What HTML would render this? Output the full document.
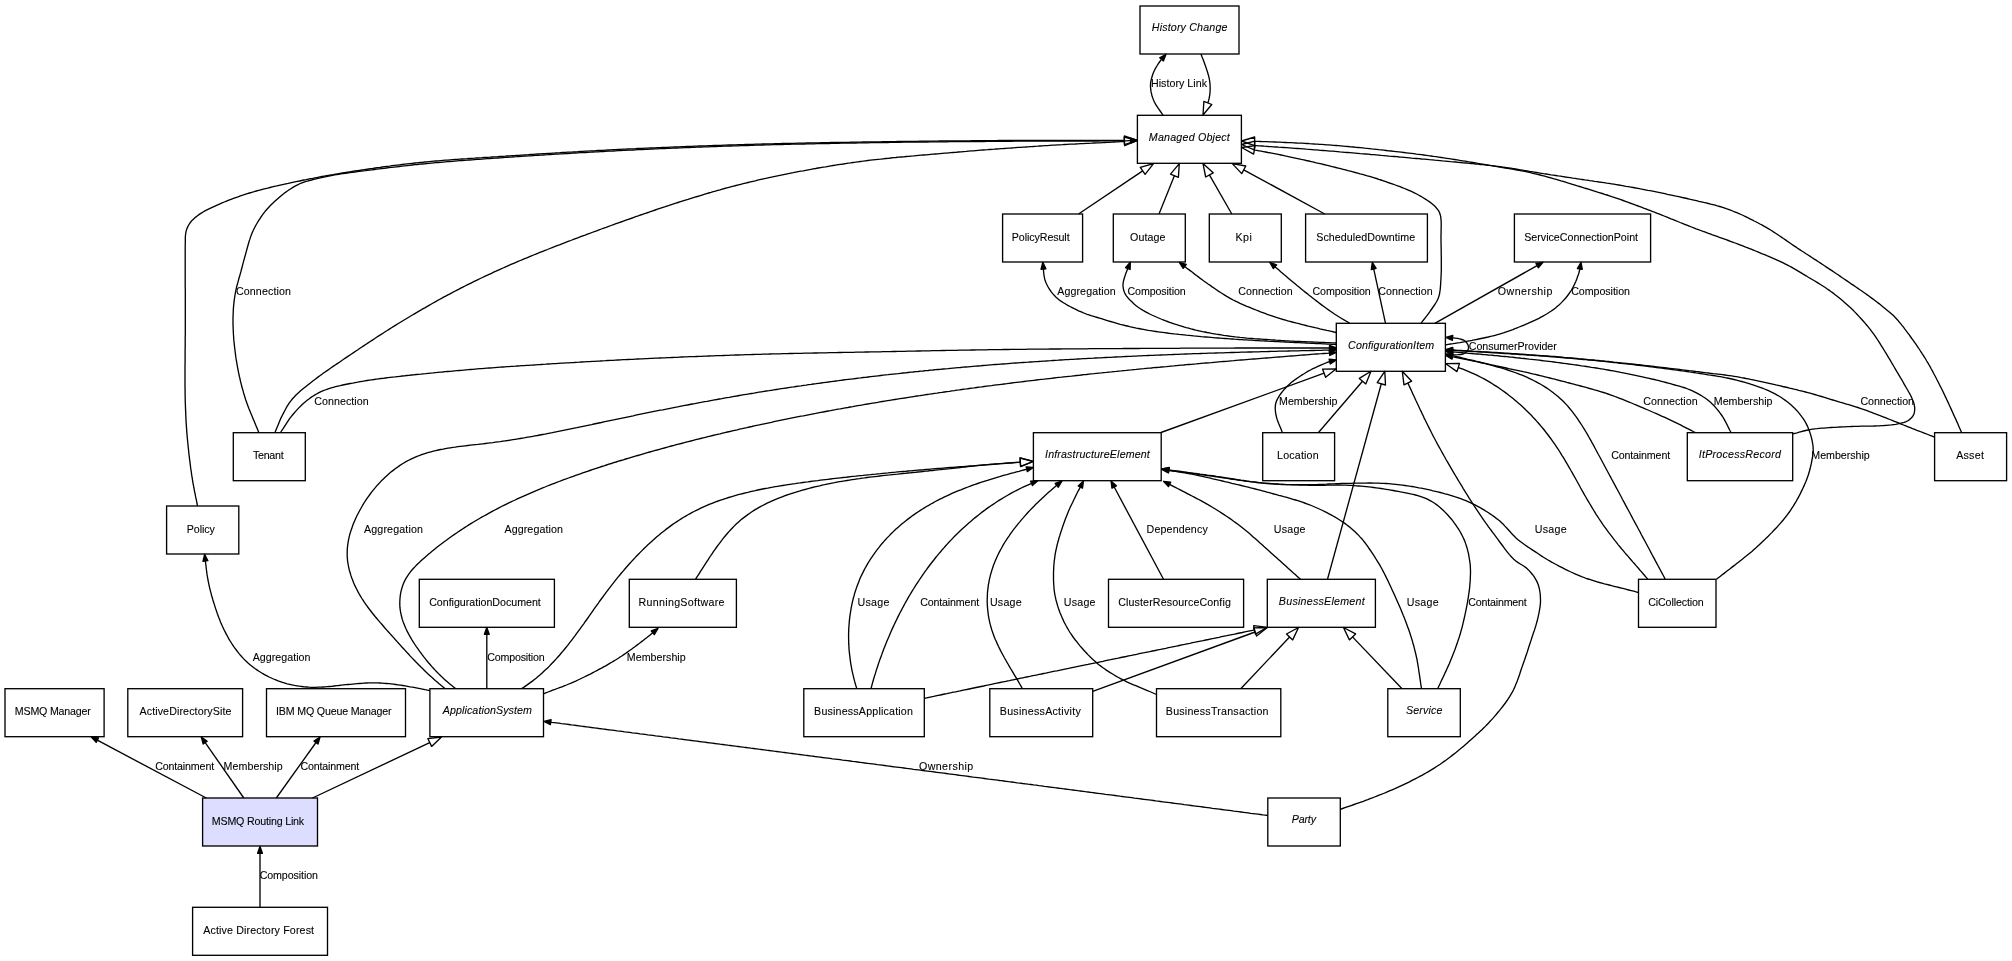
<!DOCTYPE html>
<html lang="en"><head><meta charset="utf-8"><title>Class diagram</title>
<style>html,body{margin:0;padding:0;background:#fff}body{width:2012px;height:961px;overflow:hidden}svg{display:block}text{font-family:"Liberation Sans",Arial,sans-serif;font-size:10.667px;fill:#000;stroke:#000;stroke-width:0.1px}.i{font-style:italic}.e{fill:none;stroke:#000;stroke-width:1.333}.n{stroke:#000;stroke-width:1.333}.f{fill:#000;stroke:#000;stroke-width:1.333;stroke-linejoin:round}.o{fill:none;stroke:#000;stroke-width:1.333;stroke-linejoin:round}</style></head><body>
<svg width="2012" height="961" viewBox="0 0 2012 961">
<rect width="2012" height="961" fill="#fff"/>
<rect class="n" x="1140" y="6" width="99" height="48" fill="#fff"/>
<rect class="n" x="1137.4" y="115.3" width="104" height="48" fill="#fff"/>
<rect class="n" x="1002.6" y="214" width="80" height="48" fill="#fff"/>
<rect class="n" x="1113.3" y="214" width="72" height="48" fill="#fff"/>
<rect class="n" x="1209.3" y="214" width="72" height="48" fill="#fff"/>
<rect class="n" x="1305.6" y="214" width="121.8" height="48" fill="#fff"/>
<rect class="n" x="1514.4" y="214" width="136.2" height="48" fill="#fff"/>
<rect class="n" x="1336.3" y="323.3" width="109.1" height="48" fill="#fff"/>
<rect class="n" x="233.3" y="432.7" width="72" height="48" fill="#fff"/>
<rect class="n" x="1033.4" y="432.7" width="127.8" height="48" fill="#fff"/>
<rect class="n" x="1262.7" y="432.7" width="71.9" height="48" fill="#fff"/>
<rect class="n" x="1687.3" y="432.7" width="105.4" height="48" fill="#fff"/>
<rect class="n" x="1934.6" y="432.7" width="72" height="48" fill="#fff"/>
<rect class="n" x="166.6" y="506" width="72.2" height="48" fill="#fff"/>
<rect class="n" x="419.3" y="579.3" width="135.1" height="48" fill="#fff"/>
<rect class="n" x="629.3" y="579.3" width="107.1" height="48" fill="#fff"/>
<rect class="n" x="1108.5" y="579.3" width="135.1" height="48" fill="#fff"/>
<rect class="n" x="1267.3" y="579.3" width="108.1" height="48" fill="#fff"/>
<rect class="n" x="1638.5" y="579.3" width="77.5" height="48" fill="#fff"/>
<rect class="n" x="5" y="688.7" width="99.1" height="48" fill="#fff"/>
<rect class="n" x="127.8" y="688.7" width="114.8" height="48" fill="#fff"/>
<rect class="n" x="266.5" y="688.7" width="139" height="48" fill="#fff"/>
<rect class="n" x="429.9" y="688.7" width="113.6" height="48" fill="#fff"/>
<rect class="n" x="803.8" y="688.7" width="120.5" height="48" fill="#fff"/>
<rect class="n" x="989.8" y="688.7" width="102.9" height="48" fill="#fff"/>
<rect class="n" x="1156.5" y="688.7" width="124.3" height="48" fill="#fff"/>
<rect class="n" x="1387.8" y="688.7" width="72.5" height="48" fill="#fff"/>
<rect class="n" x="202.6" y="798" width="114.9" height="48" fill="#ddddff"/>
<rect class="n" x="1267.8" y="798" width="72.5" height="48" fill="#fff"/>
<rect class="n" x="192.6" y="907.3" width="134.9" height="48" fill="#fff"/>
<path class="e" d="M1163,115.3L1161.8,113.4L1160.5,111.5L1159.2,109.6L1157.8,107.7L1156.6,105.8L1155.4,103.9L1154.4,102L1153.5,100L1152.7,97.9L1152,95.7L1151.5,93.6L1151,91.4L1150.7,89.2L1150.5,87.1L1150.5,85L1150.6,82.8L1151,80.7L1151.5,78.6L1152.1,76.5L1152.7,74.5L1153.5,72.5L1154.5,70.3L1155.6,68.1L1156.9,66L1158.2,63.9L1159.5,62L1160.7,60.3L1161.5,59.4"/>
<polygon class="f" points="1166,54.3 1163.4,61 1159.7,57.8"/>
<path class="e" d="M1201,54L1201.8,56.3L1202.7,58.5L1203.6,60.8L1204.4,63L1205.2,65.3L1206,67.5L1206.7,69.6L1207.4,71.7L1208,73.8L1208.6,75.8L1209.1,77.9L1209.5,80L1209.8,82.1L1210,84.2L1210.1,86.3L1210.2,88.4L1210.1,90.5L1210,92.5L1209.8,94.6L1209.5,96.5L1209.1,98.5L1208.6,100.5L1208,102.5L1207.9,102.9"/>
<polygon class="o" points="1203,115 1203.9,101.3 1211.8,104.5"/>
<path class="e" d="M1078.5,214L1142.7,170.9"/>
<polygon class="o" points="1153.5,163.6 1145.1,174.4 1140.3,167.3"/>
<path class="e" d="M1159,214L1174.4,175.7"/>
<polygon class="o" points="1179.3,163.6 1178.4,177.3 1170.5,174.1"/>
<path class="e" d="M1231.8,214L1209.4,174.9"/>
<polygon class="o" points="1203,163.6 1213.2,172.8 1205.7,177"/>
<path class="e" d="M1324.8,214L1243.7,169.8"/>
<polygon class="o" points="1232.3,163.6 1245.8,166 1241.7,173.6"/>
<path class="e" d="M1421,323.3L1422.4,321.4L1423.9,319.5L1425.4,317.6L1426.9,315.7L1428.3,313.8L1429.7,311.9L1431,310L1432.4,308L1433.8,306L1435.2,304L1436.4,302L1437.6,299.8L1438.5,297.5L1439.1,295.6L1439.6,293.6L1439.9,291.5L1440.2,289.4L1440.4,287.1L1440.6,284.8L1440.7,282.5L1440.9,280L1441,277.5L1441.1,275.5L1441.2,273.3L1441.3,271.1L1441.3,268.8L1441.3,266.4L1441.3,264L1441.3,261.5L1441.3,259L1441.3,256.5L1441.2,254L1441.2,251.6L1441.2,249.1L1441.1,246.7L1441.1,244.4L1441,242.2L1441,240L1441,237.5L1441,234.9L1441.1,232.4L1441.1,229.9L1441.2,227.4L1441.2,225L1441.2,222.7L1441.1,220.6L1440.9,218.5L1440.7,216.7L1440.3,215L1439.6,212.8L1438.7,210.9L1437.5,209.3L1436,207.5L1434.7,206.1L1433.2,204.8L1431.4,203.3L1429.6,201.9L1427.6,200.5L1425.4,199.1L1423.2,197.7L1420.9,196.3L1418.5,195L1416.7,194L1414.8,193.1L1412.9,192.2L1410.9,191.2L1408.8,190.3L1406.7,189.4L1404.5,188.5L1402.2,187.6L1400,186.7L1397.7,185.9L1395.3,185L1393,184.1L1390.6,183.3L1388.2,182.5L1385.8,181.6L1383.4,180.8L1381,180L1378.8,179.3L1376.6,178.5L1374.3,177.8L1372,177.1L1369.7,176.4L1367.3,175.8L1364.9,175.1L1362.5,174.4L1360.1,173.8L1357.7,173.1L1355.3,172.5L1352.9,171.8L1350.4,171.2L1348,170.6L1345.5,169.9L1343.1,169.3L1340.7,168.7L1338.2,168.1L1335.8,167.5L1333.4,166.9L1331,166.3L1328.6,165.7L1326.2,165.1L1323.7,164.5L1321.3,163.9L1318.8,163.3L1316.3,162.8L1313.8,162.2L1311.3,161.6L1308.8,161L1306.3,160.5L1303.8,159.9L1301.3,159.4L1298.9,158.8L1296.5,158.3L1294.1,157.8L1291.8,157.3L1289.5,156.8L1287.3,156.3L1285.1,155.9L1283,155.4L1281,155L1278.3,154.4L1275.6,153.9L1273,153.4L1270.5,152.9L1268,152.5L1265.6,152L1263.3,151.6L1261.1,151.2L1258.9,150.8L1256.8,150.4L1254.8,150L1254.4,149.9"/>
<polygon class="o" points="1241.6,147.5 1255.2,145.7 1253.6,154.1"/>
<path class="e" d="M1792.8,433.9L1795,433.3L1797.1,432.8L1799.2,432.2L1801.4,431.6L1803.5,431L1805.7,430.5L1807.9,430L1810.1,429.6L1812.4,429.2L1814.7,428.9L1817,428.7L1819.3,428.4L1821.6,428.2L1824,428.1L1826.4,427.9L1828.9,427.7L1831,427.5L1833.2,427.4L1835.5,427.3L1837.7,427.1L1840,427L1842.3,426.9L1844.7,426.8L1847,426.7L1849.3,426.6L1851.6,426.5L1853.9,426.4L1856.2,426.3L1858.5,426.3L1860.8,426.2L1863.2,426.2L1865.5,426.2L1867.8,426.1L1870.1,426.1L1872.4,426.1L1874.7,426L1876.9,425.9L1879,425.8L1881.5,425.6L1884,425.5L1886.5,425.3L1889,425.1L1891.3,424.9L1893.6,424.6L1895.8,424.3L1897.8,423.9L1900.1,423.4L1902.2,422.9L1904.2,422.4L1906.1,421.7L1907.8,420.8L1909.5,419.6L1911,418.3L1912.4,416.8L1913.4,415.2L1914.1,413.5L1914.5,411.6L1914.7,409.6L1914.7,407.6L1914.4,405.7L1914,403.7L1913.3,401.7L1912.5,399.7L1911.6,397.6L1910.8,395.7L1909.8,393.9L1908.7,392L1907.6,390L1906.4,388L1905.2,385.9L1904,383.8L1902.9,381.8L1901.7,379.7L1900.4,377.6L1899.1,375.3L1897.8,373.1L1896.4,370.8L1895.1,368.6L1893.9,366.5L1892.6,364.4L1891.5,362.5L1890.2,360.2L1888.9,358.2L1887.7,356.2L1886.6,354.2L1885.3,352.2L1884,350L1882.9,348.2L1881.7,346.3L1880.5,344.4L1879.3,342.4L1878,340.5L1876.8,338.5L1875.5,336.6L1874.1,334.6L1872.8,332.8L1871.3,330.8L1869.8,328.9L1868.2,326.9L1866.6,325L1865,323.1L1863.4,321.3L1861.8,319.5L1860.2,317.7L1858.7,316.1L1857.2,314.5L1855.7,312.9L1854.2,311.4L1852.7,309.8L1851.1,308.3L1849.4,306.8L1847.7,305.2L1846,303.7L1844.3,302.2L1842.4,300.6L1840.6,299.1L1838.7,297.5L1836.8,296L1834.8,294.4L1832.9,292.9L1830.9,291.5L1829,290.1L1826.9,288.7L1824.9,287.3L1822.8,286L1820.8,284.7L1818.7,283.4L1816.6,282.1L1814.4,280.8L1812.2,279.5L1810,278.2L1808,277L1806.1,275.8L1804,274.6L1802,273.4L1799.9,272.1L1797.8,270.9L1795.7,269.6L1793.5,268.4L1791.4,267.2L1789.2,266L1787.1,264.9L1785,263.8L1782.8,262.7L1780.5,261.6L1778.3,260.6L1776,259.6L1773.8,258.6L1771.5,257.6L1769.2,256.6L1766.9,255.7L1764.6,254.7L1762.3,253.8L1760,252.8L1757.8,251.9L1755.6,251L1753.4,250.1L1751.2,249.2L1748.9,248.3L1746.7,247.5L1744.4,246.6L1742.2,245.7L1739.8,244.8L1737.5,243.9L1735.1,243L1732.6,242.1L1730.5,241.3L1728.3,240.5L1726.2,239.7L1723.9,238.9L1721.7,238.1L1719.4,237.3L1717.1,236.4L1714.8,235.6L1712.4,234.8L1710.1,233.9L1707.8,233.1L1705.4,232.2L1703.1,231.4L1700.7,230.5L1698.4,229.6L1696.1,228.8L1693.8,227.9L1691.5,227L1689.2,226.1L1686.9,225.2L1684.7,224.3L1682.4,223.4L1680.1,222.5L1677.8,221.5L1675.5,220.6L1673.3,219.7L1671,218.8L1668.7,217.8L1666.4,216.9L1664.1,216L1661.9,215.1L1659.6,214.2L1657.3,213.3L1655,212.4L1652.7,211.5L1650.5,210.7L1648.2,209.8L1645.9,208.9L1643.6,208.1L1641.4,207.2L1639.1,206.3L1636.8,205.5L1634.5,204.6L1632.3,203.8L1630,203L1627.7,202.1L1625.4,201.3L1623.2,200.5L1620.9,199.7L1618.6,198.9L1616.3,198.1L1614,197.3L1611.7,196.6L1609.4,195.8L1607,195L1604.7,194.3L1602.3,193.5L1600,192.8L1597.6,192.1L1595.3,191.3L1592.9,190.6L1590.6,189.9L1588.3,189.2L1586.1,188.5L1583.9,187.9L1581.7,187.2L1579.6,186.5L1577.5,185.9L1575,185.1L1572.5,184.3L1570.1,183.6L1567.7,182.9L1565.4,182.1L1563.2,181.4L1560.9,180.8L1558.6,180.1L1556.3,179.4L1554,178.8L1551.7,178.1L1549.4,177.5L1547,176.8L1544.7,176.2L1542.3,175.6L1540,175L1537.6,174.4L1535.2,173.8L1532.9,173.3L1530.5,172.7L1528.2,172.2L1525.8,171.7L1523.5,171.2L1521.3,170.8L1519.1,170.4L1517,170L1514.8,169.6L1512.6,169.2L1510.3,168.8L1507.9,168.4L1505.5,168L1502.8,167.6L1500,167.1L1498.1,166.8L1496.1,166.4L1494,166.1L1491.9,165.7L1489.7,165.4L1487.5,165L1485.2,164.6L1482.8,164.2L1480.4,163.8L1477.9,163.4L1475.5,162.9L1472.9,162.5L1470.4,162.1L1467.8,161.7L1465.2,161.2L1462.5,160.8L1459.9,160.4L1457.2,159.9L1454.6,159.5L1451.9,159.1L1449.2,158.7L1446.6,158.3L1443.9,157.9L1441.3,157.5L1438.7,157.1L1436.1,156.7L1433.5,156.4L1431,156L1428.6,155.7L1426.2,155.3L1423.8,155L1421.3,154.7L1418.9,154.4L1416.4,154.1L1413.9,153.7L1411.4,153.4L1408.9,153.1L1406.4,152.8L1403.8,152.5L1401.3,152.2L1398.8,151.9L1396.2,151.6L1393.7,151.3L1391.2,151L1388.7,150.8L1386.2,150.5L1383.7,150.2L1381.3,149.9L1378.8,149.7L1376.4,149.4L1374,149.1L1371.7,148.9L1369.3,148.6L1367,148.4L1364.7,148.2L1362.5,147.9L1360.3,147.7L1358.1,147.5L1356,147.3L1353.3,147L1350.6,146.8L1348.1,146.5L1345.6,146.3L1343.1,146.1L1340.7,145.9L1338.3,145.7L1336,145.5L1333.6,145.3L1331.3,145.1L1329,144.9L1326.7,144.8L1324.3,144.6L1321.9,144.4L1319.5,144.3L1317.1,144.1L1314.6,144L1312,143.8L1309.6,143.7L1307.2,143.5L1304.6,143.4L1302,143.2L1299.3,143.1L1296.6,143L1293.9,142.8L1291.1,142.7L1288.3,142.6L1285.5,142.5L1282.7,142.4L1280,142.2L1277.3,142.1L1274.6,142L1272,141.9L1269.5,141.8L1267.1,141.7L1264.7,141.6L1262.5,141.6L1260.3,141.5L1258.3,141.4L1256.5,141.4L1254.8,141.3L1254.6,141.3"/>
<polygon class="o" points="1241.6,141 1254.7,137 1254.5,145.6"/>
<path class="e" d="M1961.7,432.7L1960.7,430.4L1959.7,428.2L1958.7,425.9L1957.7,423.6L1956.7,421.4L1955.7,419.1L1954.6,416.8L1953.6,414.6L1952.6,412.3L1951.6,410.1L1950.6,407.9L1949.6,405.8L1948.7,403.7L1947.7,401.6L1946.7,399.5L1945.7,397.4L1944.7,395.2L1943.7,393.1L1942.7,391L1941.6,388.8L1940.5,386.7L1939.4,384.5L1938.3,382.2L1937.1,380L1936,377.7L1934.8,375.5L1933.6,373.3L1932.5,371.1L1931.3,369L1930.2,366.9L1929.1,365L1927.9,362.9L1926.7,361L1925.6,359L1924.4,357.2L1923.3,355.4L1922.1,353.6L1921,351.8L1919.8,350L1918.5,348L1917.2,346.1L1915.9,344.2L1914.6,342.3L1913.2,340.4L1911.8,338.5L1910.4,336.5L1909.1,334.7L1907.7,332.8L1906.2,330.9L1904.7,328.9L1903.3,326.9L1901.8,325.1L1900.4,323.3L1899,321.7L1897.8,320.2L1896.2,318.5L1894.8,317L1893.4,315.6L1891.6,314L1890.2,312.7L1888.6,311.4L1886.8,309.9L1885,308.4L1883.1,306.9L1881.1,305.3L1879,303.6L1876.9,302L1874.9,300.5L1872.8,298.9L1871,297.6L1869.2,296.2L1867.3,294.9L1865.4,293.5L1863.5,292.2L1861.5,290.8L1859.5,289.5L1857.6,288.1L1855.6,286.8L1853.6,285.4L1851.6,284.1L1849.6,282.7L1847.7,281.4L1845.8,280.1L1843.8,278.8L1841.9,277.5L1840,276.1L1838.1,274.8L1836.1,273.5L1834.2,272.2L1832.3,270.9L1830.3,269.6L1828.4,268.4L1826.5,267.1L1824.5,265.8L1822.6,264.5L1820.5,263.1L1818.4,261.8L1816.4,260.4L1814.3,259.1L1812.2,257.7L1810.2,256.4L1808.1,255L1806,253.7L1803.9,252.3L1801.8,251L1799.7,249.6L1797.6,248.2L1795.7,246.9L1793.7,245.6L1791.7,244.2L1789.6,242.8L1787.5,241.4L1785.5,239.9L1783.4,238.5L1781.4,237.1L1779.4,235.8L1777.5,234.5L1775.6,233.2L1773.8,232.1L1772.2,231L1770.6,230L1768.3,228.6L1766.2,227.4L1764.3,226.3L1762.3,225.2L1760,224L1758.2,223L1756.3,222L1754.2,221L1752.1,219.9L1749.9,218.8L1747.7,217.7L1745.5,216.6L1743.3,215.5L1741.1,214.5L1739,213.6L1736.8,212.7L1734.7,211.8L1732.6,211L1730.5,210.2L1728.4,209.4L1726.3,208.7L1724.1,207.9L1721.9,207.2L1719.6,206.5L1717.4,205.9L1715.2,205.2L1713,204.6L1710.7,204.1L1708.4,203.5L1706.1,202.9L1703.7,202.4L1701.3,201.8L1698.9,201.3L1696.4,200.7L1693.8,200.1L1691.6,199.6L1689.3,199.1L1687,198.5L1684.7,198L1682.3,197.5L1679.8,196.9L1677.4,196.4L1674.9,195.9L1672.4,195.3L1669.9,194.8L1667.4,194.3L1664.9,193.7L1662.4,193.2L1659.9,192.7L1657.4,192.2L1655,191.7L1652.6,191.2L1650.2,190.7L1647.8,190.3L1645.3,189.8L1642.9,189.3L1640.5,188.9L1638.1,188.4L1635.7,188L1633.2,187.5L1630.8,187.1L1628.4,186.7L1626,186.3L1623.6,185.8L1621.1,185.4L1618.7,185L1616.3,184.6L1613.9,184.2L1611.5,183.8L1609,183.4L1606.6,183.1L1604.2,182.7L1601.8,182.3L1599.3,182L1596.9,181.6L1594.5,181.3L1592.1,180.9L1589.6,180.6L1587.2,180.2L1584.8,179.9L1582.3,179.5L1579.9,179.2L1577.5,178.8L1575.1,178.4L1572.7,178.1L1570.2,177.7L1567.8,177.3L1565.4,177L1563,176.6L1560.6,176.2L1558.1,175.9L1555.7,175.5L1553.3,175.1L1550.9,174.8L1548.5,174.4L1546.1,174L1543.6,173.7L1541.2,173.3L1538.8,172.9L1536.4,172.5L1534.1,172.1L1531.7,171.7L1529.5,171.4L1527.2,171L1524.9,170.6L1522.6,170.2L1520.3,169.8L1518,169.4L1515.6,169L1513.2,168.6L1510.8,168.2L1508.2,167.8L1505.6,167.5L1502.8,167.1L1500,166.7L1498,166.4L1495.9,166.2L1493.8,165.9L1491.7,165.7L1489.5,165.4L1487.3,165.2L1485,164.9L1482.7,164.7L1480.4,164.5L1478,164.2L1475.6,164L1473.2,163.7L1470.8,163.5L1468.3,163.2L1465.8,163L1463.3,162.8L1460.8,162.5L1458.2,162.3L1455.7,162L1453.1,161.8L1450.5,161.6L1447.9,161.3L1445.3,161.1L1442.6,160.9L1440,160.6L1437.4,160.4L1434.8,160.2L1432.1,159.9L1429.5,159.7L1426.9,159.4L1424.2,159.2L1421.6,159L1419,158.7L1416.4,158.5L1414,158.3L1411.6,158.1L1409.2,157.8L1406.8,157.6L1404.3,157.4L1401.8,157.2L1399.3,157L1396.8,156.7L1394.2,156.5L1391.7,156.3L1389.1,156.1L1386.5,155.8L1383.9,155.6L1381.3,155.4L1378.7,155.1L1376.1,154.9L1373.5,154.7L1370.8,154.5L1368.2,154.2L1365.6,154L1363,153.8L1360.4,153.6L1357.8,153.3L1355.2,153.1L1352.6,152.9L1350,152.7L1347.5,152.5L1344.9,152.3L1342.4,152.1L1339.9,151.9L1337.4,151.6L1335,151.4L1332.5,151.2L1330.1,151.1L1327.7,150.9L1325.4,150.7L1323.1,150.5L1320.8,150.3L1318.5,150.1L1316.3,149.9L1314.1,149.8L1312,149.6L1309.1,149.4L1306.3,149.2L1303.4,148.9L1300.5,148.7L1297.7,148.5L1294.9,148.3L1292,148.1L1289.3,147.9L1286.5,147.7L1283.8,147.5L1281.1,147.3L1278.5,147.2L1276,147L1273.5,146.8L1271.1,146.6L1268.7,146.5L1266.4,146.3L1264.2,146.2L1262.2,146L1260.2,145.9L1258.3,145.8L1256.5,145.6L1254.8,145.5L1254.6,145.5"/>
<polygon class="o" points="1241.6,144.5 1254.9,141.2 1254.2,149.8"/>
<path class="e" d="M197.5,505.8L197,503.5L196.6,501.2L196.1,498.9L195.6,496.7L195.2,494.4L194.7,492.1L194.3,489.8L193.8,487.5L193.4,485L192.9,482.6L192.5,480L192.2,477.9L191.8,475.7L191.5,473.5L191.2,471.2L190.8,468.9L190.5,466.5L190.2,464.1L189.9,461.7L189.6,459.3L189.3,456.8L189,454.4L188.7,452L188.5,449.5L188.2,447.1L188,444.7L187.7,442.3L187.5,440L187.3,437.7L187.1,435.4L186.9,433.1L186.7,430.9L186.6,428.7L186.4,426.5L186.3,424.3L186.1,422.1L186,419.9L185.9,417.6L185.8,415.3L185.7,412.9L185.6,410.4L185.5,407.9L185.4,405.2L185.3,402.5L185.2,400.5L185.2,398.5L185.2,396.4L185.1,394.3L185.1,392.1L185.1,389.8L185,387.6L185,385.3L185,382.9L185,380.6L185,378.1L185,375.7L185,373.2L185,370.8L185,368.2L185,365.7L185.1,363.2L185.1,360.6L185.1,358.1L185.1,355.5L185.1,352.9L185.1,350.3L185.2,347.7L185.2,345.2L185.2,342.6L185.2,340L185.2,337.4L185.3,334.9L185.3,332.4L185.3,329.8L185.3,327.3L185.3,324.9L185.3,322.4L185.3,320L185.3,317.5L185.3,315L185.3,312.3L185.3,309.6L185.3,306.9L185.3,304.1L185.3,301.2L185.3,298.4L185.3,295.5L185.3,292.6L185.3,289.7L185.2,286.8L185.2,283.9L185.2,281L185.2,278.1L185.2,275.3L185.2,272.5L185.2,269.8L185.2,267.1L185.2,264.5L185.2,262L185.2,259.5L185.2,257.1L185.2,254.9L185.2,252.7L185.2,250.6L185.2,248.7L185.2,246.9L185.2,245.2L185.3,243.7L185.3,242.3L185.3,241.1L185.3,240L185.3,237.9L185.4,236.5L185.5,235L185.8,233L186.2,230.9L186.9,228.8L187.7,226.9L188.7,225L189.9,223.1L191.3,221.3L192.6,219.9L194.1,218.5L195.7,217.1L197.5,215.7L199.3,214.4L201.3,213.1L203.1,212L204.9,210.9L206.9,209.9L209,208.8L211.1,207.8L213.3,206.8L215.5,205.8L217.7,204.8L220,203.8L222.1,202.9L224.3,202L226.5,201.1L228.8,200.2L231.1,199.3L233.4,198.4L235.7,197.6L238,196.8L240.4,195.9L242.7,195.2L245,194.4L247.3,193.7L249.5,193L251.8,192.3L254.1,191.7L256.3,191L258.6,190.4L260.9,189.8L263.2,189.2L265.4,188.6L267.7,188.1L270,187.5L272.3,186.9L274.5,186.4L276.8,185.9L279.1,185.3L281.3,184.8L283.6,184.3L285.9,183.8L288.2,183.4L290.4,182.9L292.7,182.4L295,181.9L297.3,181.4L299.5,181L301.7,180.5L303.9,180L306.1,179.6L308.3,179.1L310.5,178.7L312.8,178.3L315.1,177.8L317.5,177.4L320,176.9L322.1,176.5L324.3,176.1L326.4,175.7L328.6,175.3L330.8,174.9L333.1,174.6L335.4,174.2L337.7,173.8L340,173.4L342.4,173L344.8,172.6L347.3,172.2L349.8,171.8L352.3,171.4L354.9,171L357.5,170.6L359.6,170.3L361.8,170L363.9,169.7L366.1,169.3L368.4,169L370.6,168.7L372.9,168.4L375.3,168L377.6,167.7L380,167.4L382.3,167L384.8,166.7L387.2,166.4L389.6,166.1L392.1,165.7L394.6,165.4L397.1,165.1L399.6,164.8L402.1,164.5L404.6,164.2L407.2,163.9L409.7,163.6L412.3,163.3L414.9,163L417.4,162.8L420,162.5L422.3,162.3L424.5,162L426.8,161.8L429.1,161.6L431.4,161.4L433.7,161.2L436,161L438.3,160.8L440.7,160.6L443,160.4L445.4,160.2L447.7,160.1L450.1,159.9L452.5,159.7L454.9,159.5L457.3,159.4L459.7,159.2L462.1,159L464.6,158.8L467,158.7L469.5,158.5L472,158.3L474.5,158.2L477,158L479.5,157.8L482,157.7L484.6,157.5L487.2,157.3L489.8,157.2L492.4,157L495,156.8L497.7,156.7L500.3,156.5L503,156.3L505.2,156.2L507.4,156L509.7,155.9L512,155.7L514.2,155.6L516.5,155.4L518.9,155.3L521.2,155.1L523.5,155L525.9,154.8L528.3,154.7L530.7,154.5L533.1,154.4L535.5,154.2L537.9,154L540.3,153.9L542.8,153.7L545.2,153.6L547.7,153.4L550.2,153.3L552.6,153.1L555.1,153L557.6,152.8L560.1,152.7L562.6,152.5L565.2,152.4L567.7,152.2L570.2,152.1L572.7,152L575.3,151.8L577.8,151.7L580.3,151.5L582.8,151.4L585.4,151.2L587.9,151.1L590.5,150.9L593,150.8L595.5,150.7L598,150.5L600.6,150.4L603.1,150.3L605.6,150.1L608.1,150L610.6,149.9L613.1,149.7L615.6,149.6L618.1,149.5L620.6,149.4L623.1,149.2L625.5,149.1L628,149L630.5,148.9L632.9,148.8L635.4,148.7L637.8,148.5L640.3,148.4L642.7,148.3L645.2,148.2L647.6,148.1L650.1,148L652.5,147.9L655,147.8L657.4,147.7L659.9,147.6L662.3,147.5L664.8,147.4L667.2,147.3L669.7,147.2L672.1,147.1L674.6,147L677,146.9L679.5,146.8L681.9,146.7L684.4,146.6L686.8,146.5L689.3,146.4L691.7,146.3L694.2,146.2L696.6,146.1L699.1,146L701.5,145.9L704,145.9L706.4,145.8L708.9,145.7L711.3,145.6L713.8,145.5L716.2,145.4L718.7,145.4L721.1,145.3L723.6,145.2L726,145.1L728.5,145L730.9,145L733.4,144.9L735.8,144.8L738.3,144.7L740.7,144.7L743.2,144.6L745.6,144.5L748.1,144.4L750.5,144.4L753,144.3L755.5,144.2L757.9,144.2L760.3,144.1L762.8,144L765.2,144L767.7,143.9L770.1,143.8L772.6,143.8L775,143.7L777.5,143.7L779.9,143.6L782.4,143.5L784.8,143.5L787.3,143.4L789.7,143.4L792.2,143.3L794.6,143.3L797.1,143.2L799.5,143.2L801.9,143.1L804.4,143.1L806.8,143L809.3,143L811.7,142.9L814.2,142.9L816.6,142.8L819.1,142.8L821.5,142.7L824,142.7L826.4,142.6L828.9,142.6L831.3,142.5L833.8,142.5L836.2,142.5L838.7,142.4L841.1,142.4L843.6,142.3L846,142.3L848.5,142.3L850.9,142.2L853.4,142.2L855.9,142.1L858.3,142.1L860.8,142.1L863.2,142L865.7,142L868.1,141.9L870.6,141.9L873.1,141.9L875.5,141.8L878,141.8L880.4,141.8L882.9,141.7L885.4,141.7L887.8,141.7L890.3,141.6L892.7,141.6L895.2,141.6L897.7,141.5L900.1,141.5L902.6,141.5L905.1,141.4L907.6,141.4L910,141.4L912.5,141.3L915,141.3L917.5,141.3L919.9,141.2L922.4,141.2L924.9,141.2L927.4,141.2L929.9,141.1L932.3,141.1L934.8,141.1L937.3,141.1L939.8,141L942.3,141L944.7,141L947.2,141L949.7,140.9L952.2,140.9L954.6,140.9L957.1,140.9L959.6,140.8L962.1,140.8L964.5,140.8L967,140.8L969.5,140.8L971.9,140.7L974.4,140.7L976.8,140.7L979.3,140.7L981.7,140.7L984.2,140.6L986.6,140.6L989,140.6L991.5,140.6L993.9,140.6L996.3,140.6L998.8,140.5L1001.2,140.5L1003.6,140.5L1006,140.5L1008.6,140.5L1011.2,140.5L1013.8,140.5L1016.5,140.4L1019.2,140.4L1022,140.4L1024.8,140.4L1027.6,140.4L1030.4,140.4L1033.2,140.4L1036.1,140.4L1039,140.4L1041.9,140.4L1044.7,140.4L1047.6,140.4L1050.5,140.3L1053.4,140.3L1056.3,140.3L1059.1,140.3L1062,140.3L1064.8,140.3L1067.7,140.3L1070.5,140.3L1073.2,140.3L1076,140.3L1078.7,140.3L1081.4,140.3L1084,140.3L1086.6,140.3L1089.2,140.3L1091.7,140.3L1094.2,140.3L1096.6,140.3L1098.9,140.3L1101.2,140.3L1103.4,140.3L1105.6,140.3L1107.7,140.3L1109.7,140.3L1111.7,140.3L1113.6,140.3L1115.4,140.3L1117.1,140.3L1118.7,140.3L1120.2,140.3L1121.7,140.3L1123,140.3L1124.4,140.3"/>
<polygon class="o" points="1137.4,140.3 1124.4,144.6 1124.4,136"/>
<path class="e" d="M275,432.5L275.9,430.3L276.8,428.1L277.7,425.9L278.6,423.7L279.5,421.5L280.4,419.3L281.4,417.1L282.5,415L283.6,412.9L284.7,410.8L285.8,408.8L286.9,406.7L288.2,404.7L289.5,402.7L290.9,400.8L292.5,398.8L294,397.2L295.5,395.5L297.1,394L298.8,392.4L300.6,390.8L302.4,389.3L304.3,387.8L306.3,386.2L308.3,384.6L310.4,383L312.5,381.3L314.2,380L315.9,378.7L317.6,377.4L319.5,376L321.3,374.7L323.2,373.3L325.1,372L327.1,370.6L329.1,369.2L331.1,367.8L333.1,366.4L335.2,365L337.3,363.6L339.4,362.2L341.5,360.7L343.6,359.3L345.7,357.9L347.9,356.4L350,355L351.9,353.7L353.9,352.4L355.9,351L357.9,349.7L359.9,348.3L361.9,347L364,345.6L366.1,344.2L368.1,342.9L370.2,341.5L372.4,340.1L374.5,338.7L376.6,337.3L378.7,335.9L380.8,334.6L383,333.2L385.1,331.8L387.3,330.5L389.4,329.1L391.5,327.8L393.7,326.4L395.8,325.1L397.9,323.8L400,322.5L402.1,321.2L404.1,320L406.2,318.7L408.3,317.5L410.3,316.3L412.4,315L414.5,313.8L416.5,312.6L418.6,311.4L420.7,310.2L422.7,308.9L424.8,307.8L426.9,306.6L429,305.4L431,304.2L433.1,303L435.2,301.8L437.3,300.7L439.4,299.5L441.5,298.4L443.6,297.2L445.7,296.1L447.9,294.9L450,293.8L452.2,292.7L454.3,291.5L456.5,290.4L458.6,289.3L460.7,288.2L462.9,287.1L465,286L467.2,284.9L469.3,283.9L471.5,282.8L473.7,281.7L475.9,280.6L478,279.6L480.2,278.5L482.4,277.5L484.7,276.4L486.9,275.4L489.1,274.3L491.4,273.3L493.7,272.2L496,271.2L498.3,270.1L500.6,269.1L503,268L505.1,267.1L507.3,266.1L509.4,265.2L511.6,264.2L513.7,263.3L515.9,262.4L518.1,261.4L520.3,260.5L522.5,259.6L524.7,258.7L526.9,257.8L529.1,256.8L531.4,255.9L533.6,255L535.9,254.1L538.2,253.2L540.5,252.2L542.8,251.3L545.1,250.4L547.5,249.5L549.8,248.5L552.2,247.6L554.6,246.7L557,245.7L559.5,244.8L561.9,243.8L564.4,242.9L566.9,241.9L569.5,241L572,240L574.1,239.2L576.3,238.4L578.4,237.6L580.6,236.7L582.8,235.9L585.1,235.1L587.4,234.2L589.7,233.4L592,232.5L594.3,231.6L596.7,230.8L599,229.9L601.4,229L603.8,228.1L606.2,227.3L608.7,226.4L611.1,225.5L613.5,224.6L616,223.7L618.5,222.8L620.9,222L623.4,221.1L625.9,220.2L628.3,219.3L630.8,218.5L633.3,217.6L635.7,216.7L638.2,215.9L640.6,215L643.1,214.2L645.5,213.3L648,212.5L650.4,211.6L652.8,210.8L655.2,210L657.5,209.2L659.9,208.4L662.2,207.6L664.6,206.9L666.9,206.1L669.1,205.4L671.4,204.6L673.6,203.9L675.8,203.2L678,202.5L680.5,201.7L683,200.9L685.4,200.1L687.9,199.4L690.3,198.6L692.6,197.9L695,197.2L697.3,196.5L699.6,195.8L701.9,195.1L704.2,194.4L706.5,193.7L708.8,193L711,192.4L713.3,191.7L715.5,191.1L717.8,190.4L720,189.8L722.3,189.1L724.5,188.5L726.8,187.9L729.1,187.3L731.4,186.7L733.7,186.1L736,185.5L738.4,184.9L740.8,184.3L743.1,183.7L745.6,183.1L748,182.5L750.5,181.9L753,181.3L755.3,180.8L757.5,180.2L759.8,179.7L762.1,179.2L764.5,178.7L766.8,178.2L769.2,177.6L771.5,177.1L773.9,176.6L776.3,176.1L778.7,175.6L781.1,175.1L783.6,174.6L786,174.1L788.4,173.6L790.9,173.1L793.3,172.7L795.8,172.2L798.3,171.7L800.8,171.2L803.2,170.8L805.7,170.3L808.2,169.8L810.7,169.4L813.2,168.9L815.7,168.5L818.2,168L820.7,167.6L823.2,167.2L825.7,166.8L828.2,166.3L830.7,165.9L833.2,165.5L835.7,165.1L838.2,164.7L840.7,164.3L843.2,164L845.6,163.6L848.1,163.2L850.5,162.9L853,162.5L855.4,162.2L857.9,161.8L860.4,161.5L862.9,161.2L865.4,160.8L867.9,160.5L870.4,160.2L873,159.9L875.5,159.6L878.1,159.3L880.6,159.1L883.2,158.8L885.7,158.5L888.3,158.3L890.9,158L893.4,157.7L896,157.5L898.6,157.2L901.1,157L903.7,156.8L906.2,156.5L908.7,156.3L911.2,156.1L913.7,155.9L916.2,155.6L918.7,155.4L921.2,155.2L923.6,155L926,154.8L928.4,154.6L930.8,154.4L933.1,154.2L935.5,154L937.8,153.8L940,153.6L942.3,153.4L944.5,153.2L946.7,153.1L948.8,152.9L950.9,152.7L953,152.5L955.8,152.3L958.4,152L961.1,151.8L963.6,151.6L966.2,151.4L968.6,151.1L971.1,150.9L973.5,150.8L975.8,150.6L978.2,150.4L980.5,150.2L982.8,150L985.1,149.8L987.4,149.7L989.7,149.5L992,149.3L994.3,149.2L996.6,149L998.9,148.8L1001.2,148.6L1003.6,148.5L1006,148.3L1008.4,148.1L1010.9,148L1013.3,147.8L1015.7,147.6L1018.1,147.4L1020.6,147.3L1023,147.1L1025.4,147L1027.8,146.8L1030.3,146.6L1032.7,146.5L1035.1,146.3L1037.6,146.2L1040,146L1042.5,145.9L1044.9,145.7L1047.4,145.6L1049.9,145.4L1052.4,145.2L1054.9,145.1L1057.5,144.9L1060,144.8L1062.4,144.7L1064.8,144.5L1067.4,144.4L1069.9,144.2L1072.6,144.1L1075.2,144L1077.9,143.8L1080.7,143.7L1083.4,143.6L1086.1,143.4L1088.9,143.3L1091.6,143.2L1094.3,143L1097,142.9L1099.6,142.8L1102.2,142.6L1104.7,142.5L1107.2,142.4L1109.6,142.3L1111.9,142.1L1114.1,142L1116.2,141.9L1118.2,141.8L1120.1,141.7L1121.9,141.6L1123.5,141.5L1124.4,141.4"/>
<polygon class="o" points="1137.4,140.5 1124.7,145.7 1124.1,137.2"/>
<path class="e" d="M258.8,432.5L257.9,430.3L257,428.1L256.1,426L255.2,423.8L254.3,421.6L253.4,419.5L252.5,417.3L251.6,415.1L250.7,413L249.8,410.8L248.9,408.6L248.1,406.4L247.3,404.2L246.5,402L245.7,399.7L245,397.5L244.3,395.2L243.6,392.9L243,390.6L242.3,388.3L241.7,386L241.1,383.6L240.5,381.3L240,378.9L239.4,376.5L238.9,374.2L238.4,371.8L238,369.5L237.5,367.1L237.1,364.7L236.7,362.4L236.3,360L235.9,357.7L235.6,355.3L235.3,352.9L235,350.5L234.7,348.1L234.4,345.7L234.2,343.3L233.9,340.9L233.7,338.5L233.6,336.2L233.4,333.8L233.3,331.5L233.2,329.2L233.1,326.9L233,324.7L233,322.5L233,320.1L233,317.7L233.1,315.3L233.2,313L233.3,310.7L233.4,308.4L233.6,306.1L233.8,303.9L234.1,301.7L234.3,299.4L234.7,297.2L235,295L235.4,292.6L235.9,290.3L236.4,287.9L237,285.5L237.7,283.1L238.3,280.8L238.9,278.5L239.6,276.2L240.2,274.1L240.8,272L241.3,270L242,267.5L242.6,265.2L243.1,263.1L243.7,260.9L244.3,258.7L245,256.3L245.6,254.1L246.2,251.8L246.9,249.3L247.6,246.8L248.3,244.3L249,241.8L249.8,239.4L250.5,237.1L251.3,235L252.2,232.7L253.2,230.5L254.2,228.5L255.2,226.5L256.3,224.5L257.5,222.5L258.6,220.7L259.8,218.8L261,217L262.3,215.2L263.6,213.4L264.9,211.7L266.3,210L267.9,208.2L269.5,206.5L271.1,204.8L272.8,203.2L274.5,201.6L276.3,200L278,198.5L279.7,197L281.5,195.5L283.3,194.1L285.1,192.6L287,191.3L288.8,190L290.8,188.7L292.9,187.4L295,186.2L297.1,185.1L299.2,184L301.3,183.1L303.3,182.3L305.3,181.6L307.4,181.1L309.4,180.5L311.6,180L313.8,179.4L315.9,178.9L318.1,178.3L320.4,177.8L322.7,177.3L325.1,176.8L327.5,176.3L330,175.8L332.5,175.3L334.6,174.9L336.7,174.6L338.7,174.3L340.8,173.9L343,173.6L345.2,173.3L347.4,173L349.8,172.7L352.2,172.4L354.8,172.1L357.5,171.7L359.4,171.4L361.4,171.2L363.4,170.9L365.5,170.7L367.6,170.4L369.8,170.1L372.1,169.8L374.4,169.5L376.7,169.2L379.1,168.9L381.5,168.6L383.9,168.3L386.4,168L388.9,167.7L391.5,167.4L394,167.1L396.6,166.8L399.2,166.5L401.8,166.2L404.4,165.9L407,165.6L409.6,165.3L412.2,165L414.8,164.7L417.4,164.5L420,164.2L422.3,164L424.5,163.8L426.8,163.5L429.1,163.3L431.4,163.1L433.7,162.9L436,162.7L438.4,162.5L440.7,162.3L443,162.1L445.4,161.9L447.7,161.7L450.1,161.5L452.5,161.3L454.9,161.1L457.3,160.9L459.7,160.7L462.1,160.5L464.6,160.4L467,160.2L469.5,160L472,159.8L474.5,159.6L477,159.4L479.5,159.3L482,159.1L484.6,158.9L487.2,158.7L489.8,158.5L492.4,158.3L495,158.2L497.7,158L500.3,157.8L503,157.6L505.2,157.4L507.4,157.3L509.7,157.1L512,157L514.2,156.8L516.5,156.7L518.9,156.5L521.2,156.4L523.5,156.2L525.9,156.1L528.3,155.9L530.7,155.8L533.1,155.6L535.5,155.4L537.9,155.3L540.3,155.1L542.8,155L545.2,154.8L547.7,154.7L550.2,154.5L552.6,154.4L555.1,154.2L557.6,154.1L560.1,153.9L562.6,153.8L565.2,153.6L567.7,153.5L570.2,153.3L572.7,153.2L575.2,153L577.8,152.9L580.3,152.7L582.8,152.6L585.4,152.5L587.9,152.3L590.5,152.2L593,152L595.5,151.9L598,151.8L600.6,151.6L603.1,151.5L605.6,151.3L608.1,151.2L610.6,151.1L613.1,151L615.6,150.8L618.1,150.7L620.6,150.6L623.1,150.4L625.5,150.3L628,150.2L630.5,150.1L632.9,150L635.4,149.8L637.8,149.7L640.3,149.6L642.7,149.5L645.2,149.4L647.6,149.3L650.1,149.2L652.5,149L655,148.9L657.4,148.8L659.9,148.7L662.3,148.6L664.8,148.5L667.2,148.4L669.7,148.3L672.1,148.2L674.6,148.1L677,148L679.5,147.9L681.9,147.8L684.4,147.7L686.8,147.6L689.3,147.5L691.7,147.4L694.2,147.3L696.6,147.2L699.1,147.1L701.5,147L704,146.9L706.4,146.9L708.9,146.8L711.3,146.7L713.8,146.6L716.2,146.5L718.7,146.4L721.1,146.3L723.6,146.2L726,146.2L728.5,146.1L730.9,146L733.4,145.9L735.8,145.8L738.3,145.8L740.7,145.7L743.2,145.6L745.6,145.5L748.1,145.5L750.5,145.4L753,145.3L755.5,145.2L757.9,145.2L760.3,145.1L762.8,145L765.2,144.9L767.7,144.9L770.1,144.8L772.6,144.7L775,144.7L777.5,144.6L779.9,144.5L782.4,144.5L784.8,144.4L787.3,144.4L789.7,144.3L792.2,144.2L794.6,144.2L797.1,144.1L799.5,144.1L801.9,144L804.4,144L806.8,143.9L809.3,143.9L811.7,143.8L814.2,143.8L816.6,143.7L819.1,143.6L821.5,143.6L824,143.6L826.4,143.5L828.9,143.5L831.3,143.4L833.8,143.4L836.2,143.3L838.7,143.3L841.1,143.2L843.6,143.2L846,143.1L848.5,143.1L850.9,143L853.4,143L855.9,143L858.3,142.9L860.8,142.9L863.2,142.8L865.7,142.8L868.1,142.8L870.6,142.7L873.1,142.7L875.5,142.6L878,142.6L880.4,142.6L882.9,142.5L885.4,142.5L887.8,142.5L890.3,142.4L892.7,142.4L895.2,142.3L897.7,142.3L900.1,142.3L902.6,142.2L905.1,142.2L907.6,142.2L910,142.2L912.5,142.1L915,142.1L917.5,142.1L919.9,142L922.4,142L924.9,142L927.4,142L929.9,141.9L932.3,141.9L934.8,141.9L937.3,141.9L939.8,141.8L942.3,141.8L944.7,141.8L947.2,141.8L949.7,141.7L952.2,141.7L954.6,141.7L957.1,141.7L959.6,141.7L962.1,141.6L964.5,141.6L967,141.6L969.5,141.6L971.9,141.6L974.4,141.5L976.8,141.5L979.3,141.5L981.7,141.5L984.2,141.5L986.6,141.4L989,141.4L991.5,141.4L993.9,141.4L996.3,141.4L998.8,141.4L1001.2,141.3L1003.6,141.3L1006,141.3L1008.6,141.3L1011.2,141.3L1013.8,141.2L1016.5,141.2L1019.2,141.2L1022,141.2L1024.8,141.2L1027.6,141.2L1030.4,141.2L1033.2,141.2L1036.1,141.1L1039,141.1L1041.9,141.1L1044.7,141.1L1047.6,141.1L1050.5,141.1L1053.4,141.1L1056.3,141.1L1059.1,141.1L1062,141.1L1064.8,141.1L1067.7,141L1070.5,141L1073.2,141L1076,141L1078.7,141L1081.4,141L1084,141L1086.6,141L1089.2,141L1091.7,141L1094.2,141L1096.6,141L1098.9,141L1101.2,140.9L1103.4,140.9L1105.6,140.9L1107.7,140.9L1109.7,140.9L1111.7,140.9L1113.6,140.9L1115.4,140.9L1117.1,140.9L1118.7,140.8L1120.2,140.8L1121.7,140.8L1123,140.8L1126.2,140.8L1128.8,140.7L1130.6,140.7"/>
<polygon class="f" points="1137.4,140.5 1130.7,143.1 1130.5,138.2"/>
<path class="e" d="M1336.3,344.5L1334,344.4L1331.7,344.3L1329.5,344.2L1327.2,344.1L1325,343.9L1322.7,343.8L1320.5,343.7L1318.2,343.6L1315.9,343.5L1313.5,343.4L1311.1,343.3L1308.6,343.1L1306,343L1303.9,342.9L1301.7,342.8L1299.5,342.7L1297.3,342.6L1295,342.5L1292.6,342.4L1290.3,342.3L1287.9,342.1L1285.4,342L1283,341.9L1280.5,341.8L1278.1,341.7L1275.6,341.6L1273.1,341.4L1270.6,341.3L1268.2,341.2L1265.7,341L1263.3,340.9L1260.8,340.8L1258.4,340.6L1256,340.5L1253.6,340.4L1251.2,340.2L1248.9,340.1L1246.5,339.9L1244.1,339.8L1241.7,339.6L1239.3,339.5L1236.9,339.3L1234.6,339.2L1232.2,339L1229.8,338.9L1227.4,338.7L1225,338.5L1222.7,338.4L1220.3,338.2L1217.9,338L1215.5,337.8L1213.1,337.6L1210.8,337.4L1208.4,337.2L1206,337L1203.6,336.8L1201.2,336.6L1198.7,336.3L1196.3,336.1L1193.8,335.9L1191.4,335.6L1188.9,335.4L1186.4,335.2L1183.9,334.9L1181.5,334.6L1179,334.4L1176.6,334.1L1174.2,333.9L1171.8,333.6L1169.4,333.3L1167.1,333L1164.8,332.7L1162.5,332.4L1160.3,332.1L1158.1,331.8L1156,331.5L1153.4,331.1L1150.8,330.7L1148.3,330.3L1145.8,329.8L1143.4,329.4L1141.1,329L1138.7,328.5L1136.4,328.1L1134.1,327.6L1131.8,327.1L1129.6,326.6L1127.3,326L1125,325.5L1122.6,324.9L1120.2,324.3L1117.7,323.6L1115.3,322.9L1112.9,322.2L1110.5,321.5L1108.1,320.8L1105.8,320.1L1103.6,319.4L1101.4,318.7L1099.4,318.1L1097.5,317.5L1095.1,316.8L1093,316.2L1091,315.6L1089,314.9L1087.1,314.3L1085,313.5L1082.9,312.7L1080.7,311.7L1078.5,310.8L1076.4,309.7L1074.2,308.7L1072.1,307.6L1070,306.5L1067.8,305.3L1065.6,304L1063.4,302.7L1061.3,301.4L1059.3,300L1057.5,298.5L1055.8,296.9L1054.2,295.3L1052.7,293.6L1051.3,291.8L1050,290L1048.8,288.2L1047.7,286.3L1046.7,284.3L1045.8,282.3L1045,280L1044.5,278.1L1044.1,276L1043.8,273.8L1043.6,271.5L1043.4,269.2L1043.4,269.1"/>
<polygon class="f" points="1042.8,262.3 1045.9,268.9 1041,269.3"/>
<path class="e" d="M1336.3,343L1333.9,342.9L1331.5,342.8L1329.1,342.7L1326.6,342.6L1324.2,342.5L1321.8,342.4L1319.4,342.3L1317,342.2L1314.5,342.1L1312.1,342L1309.7,341.9L1307.3,341.8L1304.8,341.7L1302.4,341.6L1300,341.5L1297.6,341.4L1295.2,341.3L1292.8,341.2L1290.4,341.1L1288.1,340.9L1285.7,340.8L1283.3,340.6L1281,340.5L1278.6,340.3L1276.1,340.2L1273.7,340L1271.2,339.9L1268.8,339.7L1266.3,339.5L1263.9,339.4L1261.4,339.2L1259,339L1256.6,338.8L1254.2,338.7L1251.8,338.5L1249.4,338.3L1247,338.1L1244.7,337.8L1242.3,337.6L1240,337.4L1237.7,337.1L1235.5,336.9L1233.2,336.6L1231,336.3L1228.5,336L1226,335.6L1223.6,335.3L1221.2,334.9L1218.8,334.5L1216.4,334.2L1214,333.8L1211.7,333.4L1209.4,332.9L1207.1,332.5L1204.8,332L1202.5,331.6L1200.2,331.1L1198,330.6L1195.7,330.1L1193.5,329.5L1191.1,328.9L1188.6,328.2L1186.2,327.6L1183.8,326.9L1181.4,326.1L1179,325.4L1176.6,324.6L1174.2,323.9L1171.9,323.1L1169.6,322.3L1167.4,321.5L1165.2,320.7L1163.1,319.8L1161,319L1158.6,318L1156.3,317L1154.1,316L1151.8,315L1149.7,314L1147.6,312.9L1145.6,311.8L1143.6,310.7L1141.8,309.6L1140,308.5L1137.8,307L1135.8,305.4L1133.8,303.8L1132.1,302.1L1130.5,300.6L1129,299L1127.6,297.4L1126.4,295.8L1125.3,294.2L1124.5,292.5L1123.9,290.7L1123.4,288.8L1123.1,286.9L1123,285L1123.1,283.2L1123.4,281.4L1123.9,279.5L1124.5,277.5L1125.1,275.6L1125.8,273.5L1126.7,271.3L1127.6,269.1L1127.8,268.6"/>
<polygon class="f" points="1130.3,262.3 1130.1,269.5 1125.5,267.7"/>
<path class="e" d="M1336.3,332.5L1334,332L1331.6,331.4L1329.2,330.9L1326.9,330.4L1324.5,329.8L1322.1,329.3L1319.8,328.8L1317.4,328.2L1315.1,327.7L1312.8,327.1L1310.5,326.6L1308.2,326.1L1306,325.5L1303.6,324.9L1301.3,324.3L1299,323.7L1296.7,323.2L1294.4,322.6L1292.2,322L1290,321.4L1287.7,320.8L1285.5,320.1L1283.3,319.5L1281,318.8L1278.7,318.1L1276.4,317.4L1274.1,316.6L1271.9,315.8L1269.6,315.1L1267.3,314.3L1265,313.4L1262.8,312.6L1260.5,311.8L1258.3,310.9L1256,310L1253.7,309.1L1251.4,308.2L1249.1,307.2L1246.8,306.3L1244.6,305.3L1242.3,304.3L1240,303.3L1237.7,302.2L1235.5,301.1L1233.2,300L1231,298.8L1228.9,297.6L1226.8,296.4L1224.7,295.1L1222.6,293.8L1220.5,292.5L1218.4,291.1L1216.4,289.7L1214.3,288.3L1212.2,286.9L1210.2,285.4L1208.1,284L1206,282.5L1204.1,281.2L1202.2,279.8L1200.3,278.4L1198.4,276.9L1196.5,275.5L1194.6,274.1L1192.7,272.6L1190.8,271.1L1188.8,269.6L1186.9,268.2L1185,266.7L1184.7,266.4"/>
<polygon class="f" points="1179.3,262.3 1186.2,264.5 1183.2,268.4"/>
<path class="e" d="M1349.8,323.3L1347.8,322.1L1345.9,321L1344,319.9L1342,318.7L1340,317.5L1338,316.3L1336,315L1334.1,313.8L1332.3,312.5L1330.4,311.2L1328.5,309.9L1326.6,308.5L1324.6,307L1322.6,305.6L1320.6,304.1L1318.5,302.5L1316.7,301.1L1314.9,299.7L1313,298.3L1311.1,296.7L1309.1,295.2L1307.2,293.6L1305.2,292.1L1303.2,290.5L1301.3,288.9L1299.3,287.3L1297.3,285.7L1295.4,284.1L1293.5,282.5L1291.6,281L1289.8,279.4L1288,277.9L1286.1,276.3L1284.3,274.8L1282.5,273.2L1280.7,271.7L1278.9,270.1L1277.1,268.5L1275.2,267L1275,266.7"/>
<polygon class="f" points="1269.8,262.3 1276.6,264.9 1273.4,268.6"/>
<path class="e" d="M1385.5,323.3L1373.7,268.9"/>
<polygon class="f" points="1372.3,262.3 1376.1,268.4 1371.3,269.5"/>
<path class="e" d="M1434.8,323.3L1537.1,265.6"/>
<polygon class="f" points="1543,262.3 1538.3,267.8 1535.9,263.5"/>
<path class="e" d="M1445.8,344.8L1448.2,344.4L1450.6,344L1453,343.7L1455.3,343.3L1457.7,342.9L1460.1,342.6L1462.6,342.1L1465.1,341.7L1467.7,341.2L1469.8,340.8L1472,340.4L1474.2,339.9L1476.5,339.5L1478.8,339L1481.2,338.5L1483.6,338L1485.9,337.5L1488.3,337L1490.6,336.4L1492.9,335.9L1495.2,335.3L1497.4,334.7L1499.5,334.1L1501.8,333.4L1504.1,332.7L1506.3,331.9L1508.6,331.2L1510.7,330.4L1512.9,329.6L1515,328.7L1517.1,327.9L1519.2,327L1521.3,326.2L1523.4,325.3L1525.6,324.3L1527.9,323.4L1530.1,322.4L1532.4,321.4L1534.6,320.4L1536.8,319.3L1538.9,318.3L1541,317.2L1543,316.1L1544.9,315L1547.1,313.7L1549.3,312.3L1551.3,311L1553.3,309.6L1555.2,308.2L1557.1,306.6L1559,305L1560.7,303.4L1562.4,301.6L1564.1,299.8L1565.7,298L1567.3,296L1568.8,294L1570.2,292L1571.5,290L1572.7,287.9L1573.8,285.7L1574.9,283.4L1575.9,281.2L1576.8,278.9L1577.6,276.6L1578.4,274.5L1579,272.5L1579.6,270.3L1579.9,269"/>
<polygon class="f" points="1581,262.3 1582.3,269.4 1577.4,268.6"/>
<path class="e" d="M1445.8,354L1447.8,354.2L1449.9,354.4L1451.9,354.6L1453.9,354.8L1455.8,354.8L1458.3,354.7L1460.8,354.5L1462.9,354L1465.1,353L1466.9,351.6L1467.9,350.1L1468.5,348.4L1468.5,346.8L1468.1,345.2L1467,343.1L1465.3,341.2L1463.7,340.2L1461.8,339.5L1459.8,338.9L1457.5,338.4L1455,338.1L1452.6,337.9L1452.6,337.9"/>
<polygon class="f" points="1445.8,337.3 1452.8,335.5 1452.4,340.3"/>
<path class="e" d="M280.5,432.5L281.8,430.5L283.1,428.6L284.4,426.6L285.7,424.6L287,422.6L288.3,420.6L289.6,418.7L291,416.8L292.5,415L294,413.2L295.6,411.4L297.2,409.6L298.8,407.9L300.5,406.2L302.2,404.6L303.9,403L305.7,401.4L307.5,400L309.3,398.7L311,397.4L312.8,396.2L314.6,395.1L316.5,394L318.5,392.9L320.5,391.9L322.7,390.9L325,390L326.9,389.3L328.9,388.6L331.1,387.9L333.3,387.3L335.6,386.7L337.9,386.1L340.3,385.6L342.8,385L345.2,384.5L347.7,384L350.2,383.5L352.7,383.1L355.2,382.6L357.7,382.2L360.1,381.7L362.5,381.3L364.8,380.9L367.1,380.5L369.4,380.1L371.7,379.8L374,379.5L376.3,379.1L378.6,378.8L380.9,378.5L383.2,378.3L385.5,378L387.9,377.7L390.2,377.4L392.6,377.1L395,376.9L397.5,376.6L400,376.3L402.2,376L404.5,375.8L406.7,375.5L409,375.3L411.4,375L413.7,374.8L416.1,374.5L418.5,374.3L420.8,374.1L423.2,373.8L425.7,373.6L428.1,373.3L430.5,373.1L433,372.9L435.4,372.6L437.8,372.4L440.3,372.2L442.7,372L445.1,371.7L447.6,371.5L450,371.3L452.4,371.1L454.7,370.9L457,370.7L459.2,370.5L461.5,370.3L463.7,370.1L466,369.9L468.2,369.7L470.5,369.5L472.7,369.3L475,369.1L477.3,368.9L479.6,368.7L482,368.6L484.4,368.4L486.9,368.2L489.4,368L492,367.8L494.6,367.6L497.3,367.4L500.1,367.2L503,367L505,366.9L506.9,366.7L509,366.6L511,366.4L513.1,366.3L515.3,366.2L517.5,366L519.7,365.9L521.9,365.7L524.2,365.6L526.5,365.4L528.8,365.3L531.1,365.1L533.5,365L535.9,364.8L538.3,364.6L540.7,364.5L543.2,364.3L545.7,364.2L548.2,364L550.7,363.9L553.2,363.7L555.8,363.6L558.3,363.4L560.9,363.2L563.5,363.1L566.1,362.9L568.7,362.8L571.3,362.6L573.9,362.5L576.5,362.3L579.1,362.2L581.7,362L584.4,361.9L587,361.7L589.6,361.6L592.2,361.4L594.9,361.3L597.5,361.1L600.1,361L602.7,360.8L605.3,360.7L607.8,360.5L610.4,360.4L613,360.3L615.5,360.1L618,360L620.6,359.9L623.1,359.7L625.5,359.6L628,359.5L630.5,359.4L632.9,359.3L635.4,359.1L637.8,359L640.3,358.9L642.7,358.8L645.2,358.7L647.6,358.6L650.1,358.4L652.5,358.3L655,358.2L657.4,358.1L659.9,358L662.3,357.9L664.8,357.8L667.2,357.7L669.7,357.6L672.1,357.5L674.6,357.4L677,357.3L679.5,357.1L681.9,357L684.4,356.9L686.8,356.8L689.3,356.7L691.7,356.7L694.2,356.6L696.6,356.5L699.1,356.4L701.5,356.3L704,356.2L706.4,356.1L708.9,356L711.3,355.9L713.8,355.8L716.2,355.7L718.7,355.6L721.1,355.6L723.6,355.5L726,355.4L728.5,355.3L730.9,355.2L733.4,355.1L735.8,355L738.3,355L740.7,354.9L743.2,354.8L745.6,354.7L748.1,354.7L750.5,354.6L753,354.5L755.5,354.4L757.9,354.4L760.3,354.3L762.8,354.2L765.2,354.1L767.7,354.1L770.1,354L772.6,353.9L775,353.9L777.5,353.8L779.9,353.8L782.4,353.7L784.8,353.6L787.3,353.6L789.7,353.5L792.2,353.5L794.6,353.4L797.1,353.4L799.5,353.3L801.9,353.3L804.4,353.2L806.8,353.2L809.3,353.1L811.7,353.1L814.2,353L816.6,353L819.1,352.9L821.5,352.9L824,352.8L826.4,352.8L828.9,352.7L831.3,352.7L833.8,352.6L836.2,352.6L838.7,352.5L841.1,352.5L843.6,352.4L846,352.4L848.5,352.4L850.9,352.3L853.4,352.3L855.9,352.2L858.3,352.2L860.8,352.1L863.2,352.1L865.7,352L868.1,352L870.6,351.9L873.1,351.9L875.5,351.8L878,351.8L880.4,351.8L882.9,351.7L885.3,351.7L887.8,351.6L890.3,351.6L892.7,351.5L895.2,351.5L897.6,351.4L900.1,351.4L902.5,351.3L905,351.3L907.5,351.2L909.9,351.2L912.4,351.1L914.9,351.1L917.3,351L919.8,351L922.3,350.9L924.7,350.9L927.2,350.8L929.7,350.8L932.1,350.7L934.6,350.7L937.1,350.6L939.5,350.6L942,350.5L944.5,350.5L946.9,350.4L949.4,350.4L951.9,350.4L954.3,350.3L956.8,350.3L959.3,350.2L961.7,350.2L964.2,350.1L966.7,350.1L969.1,350.1L971.6,350L974.1,350L976.5,349.9L979,349.9L981.5,349.9L983.9,349.8L986.4,349.8L988.8,349.7L991.3,349.7L993.7,349.7L996.2,349.6L998.7,349.6L1001.1,349.6L1003.6,349.5L1006,349.5L1008.5,349.5L1010.9,349.4L1013.4,349.4L1015.9,349.4L1018.3,349.3L1020.8,349.3L1023.2,349.3L1025.7,349.3L1028.1,349.2L1030.6,349.2L1033.1,349.2L1035.5,349.2L1038,349.1L1040.4,349.1L1042.9,349.1L1045.3,349.1L1047.8,349.1L1050.2,349L1052.7,349L1055.1,349L1057.6,349L1060,349L1062.5,348.9L1064.9,348.9L1067.4,348.9L1069.8,348.9L1072.3,348.9L1074.7,348.8L1077.2,348.8L1079.6,348.8L1082,348.8L1084.5,348.8L1086.9,348.8L1089.4,348.7L1091.8,348.7L1094.3,348.7L1096.7,348.7L1099.2,348.7L1101.6,348.7L1104.1,348.7L1106.5,348.6L1109,348.6L1111.4,348.6L1113.9,348.6L1116.3,348.6L1118.8,348.6L1121.2,348.6L1123.6,348.5L1126.1,348.5L1128.5,348.5L1131,348.5L1133.5,348.5L1135.9,348.5L1138.4,348.5L1140.9,348.4L1143.4,348.4L1145.9,348.4L1148.4,348.4L1150.9,348.4L1153.4,348.4L1155.9,348.4L1158.5,348.3L1161,348.3L1163.5,348.3L1166.1,348.3L1168.6,348.3L1171.1,348.3L1173.7,348.3L1176.2,348.3L1178.8,348.3L1181.3,348.2L1183.8,348.2L1186.4,348.2L1188.9,348.2L1191.4,348.2L1194,348.2L1196.5,348.2L1199,348.2L1201.5,348.2L1204,348.2L1206.5,348.1L1209,348.1L1211.5,348.1L1213.9,348.1L1216.4,348.1L1218.8,348.1L1221.3,348.1L1223.7,348.1L1226.1,348.1L1228.5,348.1L1230.9,348.1L1233.2,348.1L1235.6,348L1237.9,348L1240.3,348L1242.6,348L1244.8,348L1247.1,348L1249.4,348L1251.6,348L1253.8,348L1256,348L1258.7,348L1261.3,348L1264,348L1266.6,348L1269.1,348L1271.7,348L1274.2,348L1276.7,348L1279.2,348L1281.6,348L1284.1,348L1286.5,348L1288.9,348L1291.3,348L1293.7,348L1296.1,348L1298.4,348L1300.8,348L1303.2,348L1305.5,348L1307.8,348L1310.2,348L1312.5,348L1314.9,348L1317.2,348L1319.6,348L1321.9,348L1324.3,348L1326.7,348L1329.1,348L1329.5,348"/>
<polygon class="f" points="1336.3,348 1329.5,350.4 1329.5,345.5"/>
<path class="e" d="M445,688.5L443,686.9L441,685.3L439.1,683.7L437.2,682L435.2,680.4L433.4,678.7L431.5,677.1L429.7,675.4L427.8,673.7L426,672L424.2,670.2L422.5,668.5L420.7,666.8L418.9,665L417.2,663.2L415.5,661.5L413.8,659.7L412,657.9L410.3,656.1L408.7,654.3L407,652.5L405.3,650.6L403.6,648.8L401.9,647L400.3,645.1L398.6,643.3L396.9,641.4L395.2,639.5L393.6,637.6L391.9,635.8L390.2,633.9L388.5,632L386.8,630.1L385.1,628.2L383.5,626.3L381.8,624.3L380.1,622.4L378.4,620.4L376.8,618.5L375.1,616.5L373.5,614.5L371.9,612.5L370.4,610.5L368.8,608.5L367.3,606.4L365.8,604.3L364.4,602.3L363,600.1L361.6,598L360.3,595.8L359,593.6L357.8,591.4L356.7,589.2L355.5,586.9L354.5,584.7L353.5,582.4L352.6,580L351.7,577.7L350.9,575.4L350.2,573L349.5,570.7L348.9,568.3L348.4,565.9L348,563.5L347.6,561.1L347.4,558.7L347.2,556.3L347.2,553.9L347.2,551.5L347.3,549.1L347.5,546.7L347.8,544.3L348.2,541.9L348.6,539.5L349.1,537.1L349.7,534.7L350.4,532.4L351.2,530L352,527.7L352.8,525.3L353.7,523L354.7,520.7L355.8,518.3L356.8,516L358,513.7L359.2,511.5L360.4,509.2L361.7,507L363,504.7L364.3,502.5L365.7,500.4L367.2,498.2L368.7,496.1L370.2,494L371.8,491.9L373.4,489.9L375.1,487.9L376.7,485.9L378.5,484L380.2,482.1L382,480.2L383.9,478.4L385.7,476.7L387.6,474.9L389.5,473.3L391.5,471.6L393.5,470.1L395.5,468.5L397.6,467.1L399.6,465.6L401.7,464.3L403.8,463L406,461.7L408.2,460.5L410.4,459.4L412.6,458.4L414.8,457.4L417.1,456.4L419.3,455.5L421.6,454.7L424,453.9L426.3,453.1L428.6,452.4L431,451.8L433.4,451.2L435.8,450.6L438.2,450L440.6,449.5L443,449.1L445.5,448.6L447.9,448.2L450.4,447.8L452.8,447.4L455.3,447.1L457.8,446.7L460.3,446.4L462.8,446.1L465.3,445.8L467.8,445.5L470.3,445.2L472.8,444.9L475.3,444.6L477.8,444.4L480.3,444.1L482.9,443.8L485.4,443.5L487.9,443.2L490.4,442.9L492.9,442.6L495.4,442.2L497.9,441.9L500.4,441.6L502.9,441.2L505.3,440.8L507.8,440.5L510.3,440.1L512.8,439.7L515.3,439.3L517.8,438.9L520.2,438.5L522.7,438.1L525.2,437.7L527.7,437.2L530.1,436.8L532.6,436.4L535.1,435.9L537.5,435.5L540,435L542.5,434.5L544.9,434.1L547.4,433.6L549.8,433.1L552.3,432.7L554.8,432.2L557.2,431.7L559.7,431.2L562.1,430.7L564.6,430.2L567,429.7L569.5,429.2L571.9,428.7L574.4,428.2L576.9,427.7L579.3,427.1L581.8,426.6L584.2,426.1L586.7,425.6L589.1,425.1L591.6,424.6L594,424L596.4,423.5L598.9,423L601.3,422.5L603.8,421.9L606.2,421.4L608.7,420.9L611.1,420.4L613.6,419.9L616,419.3L618.5,418.8L621,418.3L623.4,417.8L625.9,417.3L628.3,416.8L630.8,416.3L633.2,415.8L635.7,415.2L638.1,414.7L640.6,414.2L643,413.7L645.5,413.2L648,412.7L650.4,412.2L652.9,411.7L655.3,411.2L657.8,410.7L660.2,410.2L662.7,409.8L665.2,409.3L667.6,408.8L670.1,408.3L672.5,407.8L675,407.3L677.5,406.9L679.9,406.4L682.4,405.9L684.9,405.4L687.3,405L689.8,404.5L692.3,404L694.7,403.6L697.2,403.1L699.7,402.6L702.1,402.2L704.6,401.7L707.1,401.3L709.5,400.8L712,400.3L714.5,399.9L716.9,399.5L719.4,399L721.9,398.6L724.3,398.1L726.8,397.7L729.3,397.3L731.7,396.8L734.2,396.4L736.7,396L739.2,395.5L741.6,395.1L744.1,394.7L746.6,394.3L749.1,393.9L751.5,393.5L754,393.1L756.5,392.6L759,392.2L761.4,391.8L763.9,391.4L766.4,391L768.9,390.7L771.3,390.3L773.8,389.9L776.3,389.5L778.8,389.1L781.3,388.7L783.7,388.3L786.2,388L788.7,387.6L791.2,387.2L793.7,386.9L796.1,386.5L798.6,386.1L801.1,385.8L803.6,385.4L806.1,385.1L808.5,384.7L811,384.4L813.5,384L816,383.7L818.5,383.3L821,383L823.4,382.6L825.9,382.3L828.4,382L830.9,381.6L833.4,381.3L835.9,381L838.4,380.7L840.8,380.3L843.3,380L845.8,379.7L848.3,379.4L850.8,379.1L853.3,378.8L855.8,378.5L858.3,378.2L860.7,377.9L863.2,377.5L865.7,377.3L868.2,377L870.7,376.7L873.2,376.4L875.7,376.1L878.2,375.8L880.7,375.5L883.2,375.2L885.7,374.9L888.1,374.7L890.6,374.4L893.1,374.1L895.6,373.8L898.1,373.6L900.6,373.3L903.1,373L905.6,372.8L908.1,372.5L910.6,372.2L913.1,372L915.6,371.7L918.1,371.5L920.6,371.2L923.1,371L925.6,370.7L928.1,370.5L930.5,370.2L933,370L935.5,369.7L938,369.5L940.5,369.3L943,369L945.5,368.8L948,368.6L950.5,368.3L953,368.1L955.5,367.9L958,367.7L960.5,367.5L963,367.2L965.5,367L968,366.8L970.5,366.6L973,366.4L975.5,366.2L978,366L980.5,365.8L983,365.5L985.5,365.3L988,365.1L990.5,364.9L993,364.7L995.5,364.5L998,364.4L1000.5,364.2L1003,364L1005.5,363.8L1008,363.6L1010.5,363.4L1013,363.2L1015.5,363L1018,362.9L1020.5,362.7L1023,362.5L1025.5,362.3L1028,362.2L1030.6,362L1033.1,361.8L1035.6,361.6L1038.1,361.5L1040.6,361.3L1043.1,361.1L1045.6,361L1048.1,360.8L1050.6,360.7L1053.1,360.5L1055.6,360.3L1058.1,360.2L1060.6,360L1063.1,359.9L1065.6,359.7L1068.1,359.6L1070.6,359.4L1073.1,359.3L1075.6,359.1L1078.1,359L1080.6,358.9L1083.1,358.7L1085.7,358.6L1088.2,358.4L1090.7,358.3L1093.2,358.2L1095.7,358L1098.2,357.9L1100.7,357.8L1103.2,357.6L1105.7,357.5L1108.2,357.4L1110.7,357.3L1113.2,357.1L1115.7,357L1118.2,356.9L1120.7,356.8L1123.2,356.6L1125.8,356.5L1128.3,356.4L1130.8,356.3L1133.3,356.2L1135.8,356.1L1138.3,355.9L1140.8,355.8L1143.3,355.7L1145.8,355.6L1148.3,355.5L1150.8,355.4L1153.3,355.3L1155.8,355.2L1158.3,355.1L1160.9,355L1163.4,354.9L1165.9,354.8L1168.4,354.7L1170.9,354.6L1173.4,354.5L1175.9,354.4L1178.4,354.3L1180.9,354.2L1183.4,354.1L1185.9,354L1188.4,353.9L1190.9,353.8L1193.5,353.7L1196,353.7L1198.5,353.6L1201,353.5L1203.5,353.4L1206,353.3L1208.5,353.2L1211,353.2L1213.5,353.1L1216,353L1218.5,352.9L1221,352.8L1223.5,352.8L1226,352.7L1228.6,352.6L1231.1,352.5L1233.6,352.5L1236.1,352.4L1238.6,352.3L1241.1,352.2L1243.6,352.2L1246.1,352.1L1248.6,352L1251.1,352L1253.6,351.9L1256.1,351.8L1258.6,351.8L1261.1,351.7L1263.7,351.6L1266.2,351.6L1268.7,351.5L1271.2,351.4L1273.7,351.4L1276.2,351.3L1278.7,351.2L1281.2,351.2L1283.7,351.1L1286.2,351.1L1288.7,351L1291.2,350.9L1293.7,350.9L1296.2,350.8L1298.7,350.8L1301.2,350.7L1303.7,350.7L1306.2,350.6L1308.8,350.6L1311.3,350.5L1313.8,350.5L1316.3,350.4L1318.8,350.3L1321.3,350.3L1323.8,350.2L1326.3,350.2L1328.8,350.1L1329.5,350.1"/>
<polygon class="f" points="1336.3,350 1329.5,352.6 1329.5,347.7"/>
<path class="e" d="M455.5,688.5L453.5,686.9L451.5,685.3L449.5,683.7L447.6,682.1L445.7,680.4L443.8,678.8L442,677.1L440.2,675.3L438.5,673.6L436.7,671.8L435.1,670.1L433.4,668.2L431.7,666.4L430.1,664.5L428.5,662.7L426.9,660.8L425.4,658.8L423.8,656.9L422.3,654.9L420.8,652.8L419.3,650.8L417.8,648.7L416.3,646.6L414.9,644.5L413.5,642.3L412.1,640.1L410.8,637.9L409.5,635.7L408.3,633.4L407.1,631.1L406,628.8L405,626.5L404,624.1L403.1,621.8L402.3,619.4L401.7,617L401.1,614.5L400.6,612.1L400.2,609.6L399.9,607.2L399.8,604.7L399.8,602.2L399.9,599.7L400.1,597.2L400.4,594.7L400.8,592.3L401.4,589.9L402.1,587.5L402.9,585.1L403.8,582.8L404.8,580.6L406,578.4L407.3,576.3L408.6,574.3L410.1,572.3L411.7,570.3L413.3,568.5L415.1,566.6L416.8,564.8L418.7,563.1L420.5,561.3L422.4,559.6L424.3,557.9L426.2,556.2L428.1,554.6L430.1,552.9L432,551.3L434,549.7L436,548.1L437.9,546.6L439.9,545L441.9,543.5L443.9,542L446,540.5L448,539L450,537.5L452.1,536L454.1,534.6L456.2,533.2L458.3,531.8L460.4,530.4L462.5,529L464.6,527.6L466.7,526.3L468.8,524.9L470.9,523.6L473.1,522.3L475.2,521L477.4,519.7L479.5,518.5L481.7,517.2L483.9,516L486.1,514.8L488.2,513.6L490.4,512.4L492.7,511.2L494.9,510L497.1,508.8L499.3,507.7L501.5,506.5L503.8,505.4L506,504.3L508.3,503.2L510.5,502.1L512.8,501L515.1,500L517.3,498.9L519.6,497.8L521.9,496.8L524.2,495.8L526.5,494.8L528.8,493.8L531.1,492.8L533.4,491.8L535.7,490.8L538,489.8L540.4,488.9L542.7,487.9L545,487L547.3,486L549.7,485.1L552,484.2L554.4,483.3L556.7,482.4L559.1,481.5L561.4,480.6L563.8,479.7L566.1,478.9L568.5,478L570.9,477.1L573.2,476.3L575.6,475.4L578,474.6L580.3,473.8L582.7,472.9L585.1,472.1L587.5,471.3L589.8,470.5L592.2,469.7L594.6,468.9L597,468.1L599.4,467.3L601.7,466.5L604.1,465.8L606.5,465L608.9,464.2L611.3,463.5L613.7,462.7L616.1,462L618.5,461.2L620.9,460.5L623.3,459.8L625.7,459L628.1,458.3L630.5,457.6L632.9,456.9L635.3,456.2L637.7,455.5L640.1,454.8L642.5,454.1L644.9,453.4L647.3,452.7L649.7,452L652.1,451.3L654.5,450.6L656.9,450L659.4,449.3L661.8,448.6L664.2,448L666.6,447.3L669,446.7L671.4,446L673.9,445.4L676.3,444.7L678.7,444.1L681.1,443.5L683.6,442.8L686,442.2L688.4,441.6L690.8,441L693.3,440.3L695.7,439.7L698.1,439.1L700.6,438.5L703,437.9L705.4,437.3L707.9,436.7L710.3,436.1L712.7,435.5L715.2,434.9L717.6,434.3L720.1,433.8L722.5,433.2L724.9,432.6L727.4,432L729.8,431.5L732.3,430.9L734.7,430.3L737.2,429.8L739.6,429.2L742,428.7L744.5,428.1L746.9,427.6L749.4,427L751.8,426.5L754.3,425.9L756.7,425.4L759.2,424.9L761.6,424.3L764.1,423.8L766.5,423.3L769,422.8L771.5,422.3L773.9,421.7L776.4,421.2L778.8,420.7L781.3,420.2L783.7,419.7L786.2,419.2L788.7,418.7L791.1,418.2L793.6,417.7L796,417.2L798.5,416.7L801,416.2L803.4,415.8L805.9,415.3L808.3,414.8L810.8,414.3L813.3,413.8L815.7,413.4L818.2,412.9L820.7,412.4L823.1,412L825.6,411.5L828.1,411L830.5,410.6L833,410.1L835.5,409.7L837.9,409.2L840.4,408.8L842.9,408.3L845.3,407.9L847.8,407.5L850.3,407L852.7,406.6L855.2,406.1L857.7,405.7L860.2,405.3L862.6,404.9L865.1,404.4L867.6,404L870,403.6L872.5,403.2L875,402.8L877.5,402.4L879.9,401.9L882.4,401.5L884.9,401.1L887.4,400.7L889.8,400.3L892.3,399.9L894.8,399.5L897.3,399.1L899.8,398.7L902.2,398.3L904.7,398L907.2,397.6L909.7,397.2L912.1,396.8L914.6,396.4L917.1,396L919.6,395.7L922.1,395.3L924.6,394.9L927,394.5L929.5,394.2L932,393.8L934.5,393.4L937,393.1L939.4,392.7L941.9,392.4L944.4,392L946.9,391.6L949.4,391.3L951.9,390.9L954.3,390.6L956.8,390.2L959.3,389.9L961.8,389.5L964.3,389.2L966.8,388.9L969.3,388.5L971.7,388.2L974.2,387.9L976.7,387.5L979.2,387.2L981.7,386.9L984.2,386.5L986.7,386.2L989.2,385.9L991.6,385.6L994.1,385.2L996.6,384.9L999.1,384.6L1001.6,384.3L1004.1,384L1006.6,383.7L1009.1,383.3L1011.6,383L1014.1,382.7L1016.5,382.4L1019,382.1L1021.5,381.8L1024,381.5L1026.5,381.2L1029,380.9L1031.5,380.6L1034,380.3L1036.5,380L1039,379.7L1041.5,379.4L1044,379.2L1046.5,378.9L1049,378.6L1051.4,378.3L1053.9,378L1056.4,377.7L1058.9,377.4L1061.4,377.2L1063.9,376.9L1066.4,376.6L1068.9,376.3L1071.4,376.1L1073.9,375.8L1076.4,375.5L1078.9,375.3L1081.4,375L1083.9,374.7L1086.4,374.5L1088.9,374.2L1091.4,373.9L1093.9,373.7L1096.4,373.4L1098.9,373.1L1101.4,372.9L1103.9,372.6L1106.4,372.4L1108.9,372.1L1111.4,371.9L1113.8,371.6L1116.3,371.4L1118.8,371.1L1121.3,370.9L1123.8,370.6L1126.3,370.4L1128.8,370.1L1131.3,369.9L1133.8,369.6L1136.3,369.4L1138.8,369.1L1141.3,368.9L1143.8,368.7L1146.3,368.4L1148.8,368.2L1151.3,368L1153.8,367.7L1156.3,367.5L1158.8,367.3L1161.3,367L1163.8,366.8L1166.3,366.6L1168.8,366.3L1171.3,366.1L1173.8,365.9L1176.3,365.6L1178.8,365.4L1181.3,365.2L1183.8,365L1186.3,364.7L1188.8,364.5L1191.3,364.3L1193.8,364.1L1196.3,363.9L1198.8,363.6L1201.3,363.4L1203.8,363.2L1206.3,363L1208.8,362.8L1211.3,362.6L1213.8,362.3L1216.3,362.1L1218.8,361.9L1221.3,361.7L1223.8,361.5L1226.3,361.3L1228.8,361.1L1231.3,360.9L1233.8,360.7L1236.3,360.4L1238.8,360.2L1241.3,360L1243.8,359.8L1246.3,359.6L1248.8,359.4L1251.3,359.2L1253.8,359L1256.3,358.8L1258.8,358.6L1261.3,358.4L1263.8,358.2L1266.3,358L1268.8,357.8L1271.3,357.6L1273.8,357.4L1276.3,357.2L1278.8,357L1281.3,356.8L1283.8,356.6L1286.3,356.4L1288.8,356.2L1291.3,356L1293.8,355.8L1296.3,355.6L1298.8,355.4L1301.3,355.2L1303.8,355L1306.3,354.8L1308.8,354.6L1311.3,354.4L1313.8,354.2L1316.3,354L1318.8,353.8L1321.3,353.7L1323.8,353.5L1326.3,353.3L1328.8,353.1L1329.5,353"/>
<polygon class="f" points="1336.3,352.5 1329.7,355.5 1329.3,350.6"/>
<path class="e" d="M1282.3,432.5L1281.5,430.3L1280.6,428.1L1279.6,425.8L1278.7,423.6L1277.9,421.4L1277.1,419.2L1276.5,417.1L1276,415L1275.6,412.8L1275.4,410.7L1275.2,408.6L1275.3,406.6L1275.5,404.6L1276,402.5L1276.7,400.6L1277.6,398.7L1278.7,396.8L1279.9,394.9L1281.3,393L1282.8,391.1L1284.4,389.3L1286,387.5L1287.5,386L1289.1,384.5L1290.7,383.1L1292.5,381.6L1294.3,380.2L1296.2,378.9L1298.2,377.5L1300.1,376.2L1302.1,374.9L1304.1,373.7L1306,372.5L1308.2,371.2L1310.5,370L1312.9,368.7L1315.4,367.6L1317.8,366.4L1320.2,365.3L1322.5,364.4L1324.7,363.5L1326.7,362.7L1328.5,362L1329.7,361.6"/>
<polygon class="f" points="1336.3,360 1330.3,364 1329.1,359.2"/>
<path class="e" d="M1161,432.5L1324.1,373.2"/>
<polygon class="o" points="1336.3,368.8 1325.6,377.3 1322.6,369.2"/>
<path class="e" d="M1318.5,432.5L1362.5,381.2"/>
<polygon class="o" points="1371,371.3 1365.8,384 1359.3,378.4"/>
<path class="e" d="M1327.5,579.3L1381.3,383.8"/>
<polygon class="o" points="1384.8,371.3 1385.5,385 1377.2,382.7"/>
<path class="e" d="M1340.3,809.3L1342.6,808.5L1344.9,807.7L1347.2,806.9L1349.5,806.1L1351.8,805.3L1354.1,804.5L1356.4,803.7L1358.7,802.9L1361,802.1L1363.3,801.3L1365.5,800.4L1367.8,799.6L1370.1,798.7L1372.3,797.9L1374.6,797L1376.8,796.1L1379,795.2L1381.2,794.4L1383.5,793.5L1385.7,792.6L1387.8,791.6L1390,790.7L1392.2,789.8L1394.4,788.9L1396.6,787.9L1398.7,786.9L1400.9,785.9L1403.1,784.9L1405.2,783.9L1407.4,782.8L1409.5,781.8L1411.6,780.7L1413.6,779.7L1415.7,778.6L1417.8,777.5L1419.8,776.4L1421.9,775.3L1424,774.1L1426,773L1428.1,771.8L1430.1,770.6L1432.1,769.4L1434.2,768.1L1436.2,766.8L1438.2,765.5L1440.2,764.2L1442.2,762.8L1444.2,761.4L1446.2,760L1448.2,758.5L1450.2,757L1452.2,755.4L1454.2,753.9L1456.2,752.3L1458.1,750.7L1460.1,749.1L1462,747.5L1463.9,745.9L1465.8,744.3L1467.6,742.7L1469.4,741.1L1471.2,739.5L1472.9,738L1474.8,736.3L1476.6,734.6L1478.4,733L1480.2,731.3L1481.9,729.7L1483.6,728L1485.3,726.4L1486.9,724.7L1488.6,723L1490.1,721.3L1491.7,719.6L1493.3,717.9L1494.8,716.1L1496.4,714.2L1498,712.3L1499.6,710.4L1501.2,708.4L1502.7,706.5L1504.2,704.5L1505.7,702.5L1507.1,700.5L1508.5,698.4L1509.8,696.4L1511.1,694.2L1512.3,692.1L1513.4,690L1514.4,687.9L1515.3,685.8L1516.2,683.6L1517.1,681.4L1517.9,679.2L1518.7,677L1519.5,674.7L1520.2,672.5L1520.9,670.3L1521.7,668.1L1522.4,665.9L1523.2,663.7L1524,661.5L1524.8,659.2L1525.5,657L1526.3,654.7L1527.1,652.5L1527.8,650.2L1528.5,648L1529.2,645.8L1529.9,643.7L1530.6,641.6L1531.3,639.5L1531.9,637.5L1532.7,635.2L1533.4,632.9L1534.2,630.7L1534.9,628.6L1535.6,626.5L1536.2,624.4L1536.8,622.2L1537.4,620L1537.9,617.8L1538.4,615.6L1538.9,613.4L1539.3,611.1L1539.7,608.9L1540.1,606.6L1540.3,604.4L1540.5,602.2L1540.5,600L1540.4,597.5L1540.3,595L1540,592.5L1539.6,590.1L1539.1,587.7L1538.4,585.3L1537.6,583.1L1536.6,580.9L1535.4,578.8L1534.1,576.7L1532.6,574.7L1531,572.8L1529.4,570.9L1527.7,569.2L1525.9,567.6L1524,566.2L1522,565L1519.9,563.7L1517.8,562.4L1515.8,561L1513.8,559.3L1512.3,557.8L1510.9,556.3L1509.4,554.6L1508,552.9L1506.6,551.2L1505.2,549.3L1503.8,547.4L1502.4,545.5L1500.9,543.5L1499.4,541.5L1497.9,539.4L1496.6,537.7L1495.3,535.9L1494,534.2L1492.6,532.4L1491.3,530.5L1489.9,528.7L1488.5,526.8L1487.2,524.8L1485.7,522.9L1484.3,520.9L1482.9,518.8L1481.4,516.7L1480,514.6L1478.5,512.4L1477,510.2L1475.5,507.9L1474,505.6L1472.9,503.8L1471.7,502L1470.5,500.2L1469.3,498.3L1468.1,496.3L1466.9,494.4L1465.6,492.4L1464.4,490.4L1463.1,488.3L1461.9,486.2L1460.6,484.1L1459.3,482L1458,479.9L1456.7,477.7L1455.4,475.5L1454.1,473.3L1452.8,471.1L1451.5,468.9L1450.2,466.7L1448.9,464.4L1447.6,462.2L1446.3,460L1445.1,457.7L1443.8,455.5L1442.5,453.2L1441.3,451L1440.1,448.8L1438.9,446.6L1437.6,444.4L1436.5,442.2L1435.3,440L1434.1,437.8L1433,435.7L1431.9,433.5L1430.8,431.3L1429.7,429.1L1428.6,426.9L1427.5,424.7L1426.4,422.5L1425.3,420.3L1424.2,418.1L1423.2,415.8L1422.1,413.6L1421.1,411.4L1420,409.2L1419,407L1417.9,404.7L1416.9,402.5L1415.8,400.3L1414.8,398L1413.8,395.8L1412.7,393.6L1411.7,391.3L1410.7,389.1L1409.6,386.9L1408.6,384.6L1407.9,383.1"/>
<polygon class="o" points="1402.3,371.3 1411.7,381.2 1404,384.9"/>
<path class="e" d="M1647.8,579.3L1646.2,577.4L1644.6,575.5L1642.9,573.5L1641.3,571.6L1639.6,569.7L1638,567.8L1636.3,565.9L1634.7,564L1633,562.1L1631.4,560.2L1629.7,558.3L1628.1,556.4L1626.4,554.5L1624.8,552.6L1623.2,550.6L1621.5,548.7L1619.9,546.8L1618.3,544.8L1616.8,542.8L1615.2,540.9L1613.6,538.9L1612.1,536.9L1610.6,534.9L1609,532.9L1607.5,530.9L1606.1,528.9L1604.6,526.8L1603.1,524.8L1601.7,522.7L1600.3,520.6L1598.9,518.5L1597.5,516.4L1596.1,514.3L1594.8,512.2L1593.5,510L1592.2,507.9L1590.9,505.7L1589.6,503.5L1588.3,501.4L1587,499.2L1585.8,497L1584.5,494.8L1583.3,492.6L1582,490.4L1580.8,488.2L1579.6,486L1578.4,483.8L1577.1,481.5L1575.9,479.3L1574.7,477.1L1573.4,474.9L1572.2,472.7L1570.9,470.5L1569.7,468.3L1568.4,466.1L1567.1,463.9L1565.9,461.8L1564.6,459.6L1563.3,457.4L1561.9,455.3L1560.6,453.1L1559.3,451L1557.9,448.9L1556.5,446.8L1555.1,444.7L1553.6,442.6L1552.2,440.6L1550.7,438.5L1549.2,436.5L1547.7,434.5L1546.1,432.5L1544.6,430.5L1543,428.5L1541.4,426.6L1539.8,424.7L1538.1,422.8L1536.4,420.9L1534.7,419L1533,417.2L1531.3,415.3L1529.5,413.5L1527.7,411.7L1525.9,410L1524.1,408.2L1522.3,406.5L1520.4,404.8L1518.5,403.2L1516.6,401.5L1514.7,399.9L1512.8,398.3L1510.8,396.7L1508.8,395.2L1506.8,393.6L1504.8,392.1L1502.8,390.7L1500.7,389.2L1498.6,387.8L1496.5,386.4L1494.4,385.1L1492.3,383.7L1490.1,382.4L1488,381.1L1485.8,379.9L1483.6,378.7L1481.3,377.5L1479.1,376.4L1476.8,375.2L1474.5,374.1L1472.2,373.1L1469.9,372.1L1467.6,371.1L1465.2,370.1L1462.9,369.2L1460.5,368.3L1458.2,367.5"/>
<polygon class="o" points="1445.8,363.7 1459.5,363.4 1457,371.6"/>
<path class="e" d="M1665.3,579.3L1664.1,577L1662.9,574.8L1661.7,572.6L1660.5,570.3L1659.3,568.1L1658.1,565.8L1656.9,563.6L1655.7,561.4L1654.5,559.1L1653.3,556.9L1652.1,554.7L1650.9,552.4L1649.8,550.2L1648.6,548L1647.4,545.8L1646.2,543.5L1645,541.3L1643.8,539.1L1642.6,536.9L1641.4,534.7L1640.3,532.4L1639.1,530.2L1637.9,528L1636.7,525.8L1635.5,523.6L1634.3,521.4L1633.1,519.2L1631.9,516.9L1630.8,514.7L1629.6,512.5L1628.4,510.3L1627.2,508.1L1626,505.9L1624.8,503.6L1623.6,501.4L1622.4,499.2L1621.3,497L1620.1,494.8L1618.9,492.5L1617.7,490.3L1616.5,488.1L1615.3,485.9L1614.1,483.6L1612.9,481.4L1611.7,479.2L1610.5,476.9L1609.3,474.7L1608.1,472.5L1606.9,470.2L1605.7,468L1604.5,465.7L1603.3,463.5L1602.1,461.3L1600.9,459L1599.7,456.7L1598.4,454.5L1597.2,452.2L1596,450L1594.8,447.7L1593.6,445.4L1592.3,443.2L1591.1,440.9L1589.8,438.7L1588.6,436.5L1587.3,434.2L1586,432L1584.7,429.8L1583.3,427.7L1582,425.5L1580.6,423.4L1579.2,421.3L1577.8,419.2L1576.4,417.1L1574.9,415.1L1573.4,413.1L1571.9,411.1L1570.3,409.2L1568.7,407.3L1567.1,405.4L1565.4,403.6L1563.7,401.8L1561.9,400.1L1560.1,398.4L1558.3,396.8L1556.4,395.2L1554.5,393.7L1552.6,392.2L1550.6,390.7L1548.6,389.3L1546.5,387.9L1544.5,386.6L1542.3,385.3L1540.2,384L1538,382.8L1535.8,381.6L1533.6,380.5L1531.3,379.4L1529.1,378.3L1526.8,377.2L1524.4,376.2L1522.1,375.2L1519.7,374.3L1517.3,373.4L1514.9,372.5L1512.5,371.6L1510.1,370.8L1507.7,370L1505.2,369.2L1502.7,368.4L1500.3,367.7L1497.8,367L1495.3,366.3L1492.8,365.6L1490.3,364.9L1487.8,364.3L1485.3,363.7L1482.8,363.1L1480.3,362.5L1477.8,361.9L1475.2,361.4L1472.7,360.8L1470.3,360.3L1467.8,359.8L1465.3,359.3L1462.8,358.8L1460.3,358.3L1457.9,357.8L1455.4,357.3L1453,356.9L1452.5,356.8"/>
<polygon class="f" points="1445.8,355.5 1452.9,354.4 1452,359.2"/>
<path class="e" d="M1716.5,579.3L1718.4,577.7L1720.4,576.2L1722.4,574.6L1724.4,573.1L1726.4,571.5L1728.4,570L1730.4,568.5L1732.4,566.9L1734.4,565.4L1736.4,563.8L1738.4,562.3L1740.3,560.7L1742.3,559.2L1744.3,557.6L1746.2,556.1L1748.1,554.5L1750,552.9L1751.9,551.4L1753.7,549.8L1755.5,548.2L1757.3,546.6L1759,545L1760.9,543.2L1762.7,541.5L1764.6,539.7L1766.4,537.9L1768.2,536.2L1770,534.4L1771.8,532.6L1773.5,530.8L1775.2,529L1776.9,527.2L1778.5,525.4L1780.1,523.6L1781.7,521.8L1783.2,520L1784.7,518.1L1786.2,516.3L1787.6,514.4L1789,512.5L1790.5,510.4L1791.9,508.2L1793.3,506.1L1794.6,503.9L1796,501.6L1797.2,499.4L1798.5,497.1L1799.7,494.9L1800.8,492.6L1801.9,490.4L1802.9,488.3L1803.9,486.1L1804.8,484L1805.7,482L1806.5,480L1807.4,477.6L1808.2,475.2L1809,472.8L1809.6,470.5L1810.2,468.3L1810.7,466.1L1811.2,464L1811.6,462L1812,460L1812.4,457.6L1812.8,455.4L1813,453.3L1813.2,451.2L1813.2,449L1813.1,446.8L1812.8,444.5L1812.4,442.3L1812,440L1811.4,437.7L1810.8,435.4L1810.1,433.1L1809.3,430.8L1808.4,428.4L1807.4,426.1L1806.3,423.9L1805.3,422L1804.2,420.2L1803,418.3L1801.7,416.6L1800.4,414.8L1799,413.1L1797.6,411.4L1796,409.7L1794.3,407.9L1792.5,406.2L1790.6,404.6L1788.8,403L1786.9,401.5L1785,400.1L1783,398.7L1780.9,397.3L1778.8,396L1776.7,394.8L1774.6,393.7L1772.5,392.6L1770.5,391.6L1768.5,390.7L1766.6,389.8L1764.5,389L1762.4,388.2L1760,387.3L1758,386.6L1755.9,385.9L1753.7,385.1L1751.4,384.4L1749.1,383.6L1746.6,382.9L1744.2,382.2L1741.6,381.5L1739.1,380.8L1736.5,380.1L1734,379.5L1731.8,379L1729.5,378.5L1727.2,378L1725,377.6L1722.7,377.1L1720.4,376.7L1718,376.3L1715.6,375.9L1713.2,375.5L1710.7,375.1L1708.1,374.8L1705.5,374.3L1702.8,373.9L1700,373.5L1697.9,373.2L1695.8,372.9L1693.6,372.5L1691.4,372.2L1689.1,371.9L1686.8,371.5L1684.4,371.2L1682,370.9L1679.5,370.5L1677.1,370.2L1674.6,369.8L1672,369.5L1669.5,369.2L1667,368.8L1664.4,368.5L1661.8,368.2L1659.2,367.8L1656.6,367.5L1654,367.2L1651.5,366.8L1648.9,366.5L1646.3,366.2L1643.8,365.9L1641.2,365.6L1638.7,365.3L1636.3,365L1633.8,364.7L1631.3,364.4L1628.8,364.1L1626.3,363.8L1623.8,363.6L1621.2,363.3L1618.7,363L1616.2,362.7L1613.6,362.5L1611.1,362.2L1608.6,361.9L1606.1,361.7L1603.5,361.4L1601,361.2L1598.5,360.9L1596,360.7L1593.5,360.4L1591,360.2L1588.5,360L1586.1,359.7L1583.6,359.5L1581.2,359.3L1578.7,359.1L1576.3,358.8L1573.9,358.6L1571.6,358.4L1569.2,358.2L1566.6,358L1564.1,357.8L1561.6,357.5L1559.1,357.3L1556.6,357.1L1554.2,356.9L1551.8,356.8L1549.3,356.6L1546.9,356.4L1544.6,356.2L1542.2,356L1539.8,355.8L1537.4,355.7L1535,355.5L1532.5,355.3L1530.1,355.2L1527.6,355L1525.1,354.8L1522.6,354.6L1520.1,354.5L1517.5,354.3L1515.1,354.1L1512.6,354L1510,353.8L1507.3,353.6L1504.6,353.5L1501.8,353.3L1498.9,353.1L1496,352.9L1493.1,352.8L1490.2,352.6L1487.3,352.4L1484.4,352.2L1481.6,352.1L1478.8,351.9L1476,351.7L1473.4,351.6L1470.7,351.4L1468.2,351.3L1465.8,351.1L1463.5,351L1461.4,350.9L1459.3,350.8L1457.5,350.7L1455.8,350.6L1454.2,350.5L1452.9,350.4L1452.6,350.4"/>
<polygon class="f" points="1445.8,350 1452.7,347.9 1452.5,352.8"/>
<path class="e" d="M1695.3,432.5L1693.2,431.5L1691.2,430.4L1689.2,429.4L1687.1,428.3L1685.1,427.3L1683,426.3L1681,425.2L1678.9,424.2L1676.8,423.1L1674.7,422.1L1672.6,421.1L1670.5,420.1L1668.5,419.2L1666.4,418.2L1664.3,417.2L1662.2,416.3L1660.1,415.3L1658,414.4L1655.8,413.4L1653.6,412.5L1651.4,411.5L1649.1,410.5L1646.7,409.5L1644.6,408.6L1642.5,407.7L1640.4,406.8L1638.2,405.9L1635.9,404.9L1633.7,404L1631.4,403L1629.1,402.1L1626.7,401.1L1624.4,400.2L1622,399.2L1619.7,398.3L1617.3,397.4L1615,396.5L1612.6,395.6L1610.3,394.8L1608,394L1605.7,393.2L1603.5,392.5L1601.2,391.8L1598.9,391.1L1596.6,390.4L1594.4,389.8L1592.1,389.1L1589.8,388.5L1587.5,387.8L1585.2,387.2L1582.9,386.6L1580.6,386L1578.4,385.4L1576.1,384.8L1573.8,384.2L1571.5,383.6L1569.2,383L1566.8,382.4L1564.4,381.7L1561.9,381.1L1559.5,380.5L1557.1,379.8L1554.7,379.2L1552.2,378.6L1549.8,378L1547.4,377.4L1545,376.8L1542.5,376.2L1540.1,375.6L1537.7,375L1535.3,374.4L1532.8,373.9L1530.4,373.3L1528,372.7L1525.6,372.2L1523.1,371.7L1520.7,371.1L1518.3,370.6L1515.9,370.1L1513.5,369.6L1511.1,369.1L1508.6,368.6L1506.2,368L1503.8,367.5L1501.4,367L1499,366.5L1496.5,366L1494.1,365.4L1491.7,364.9L1489.2,364.3L1486.6,363.7L1484,363.1L1481.3,362.5L1478.5,361.8L1475.8,361.2L1473.1,360.5L1470.4,359.9L1467.7,359.3L1465.2,358.7L1462.7,358.1L1460.4,357.5L1458.3,357L1456.3,356.6L1454.5,356.2L1452.9,355.8L1452.5,355.7"/>
<polygon class="f" points="1445.8,354.3 1453,353.3 1451.9,358.1"/>
<path class="e" d="M1731,432.5L1729.8,430.3L1728.7,428.1L1727.6,425.8L1726.5,423.6L1725.3,421.3L1724.1,419.2L1722.9,417L1721.5,415L1720.1,413.1L1718.7,411.2L1717.2,409.4L1715.7,407.6L1714.1,405.8L1712.5,404.2L1710.8,402.5L1709,401L1707.1,399.5L1705.1,398L1703,396.7L1700.9,395.3L1698.7,394.1L1696.5,392.9L1694.3,391.8L1692,390.7L1690,389.8L1687.9,389L1685.8,388.2L1683.7,387.5L1681.6,386.9L1679.4,386.2L1677.2,385.6L1674.9,385L1672.6,384.3L1670.4,383.7L1668.2,383.1L1666,382.5L1663.7,381.9L1661.4,381.3L1659.1,380.7L1656.7,380.1L1654.3,379.5L1651.8,379L1649.3,378.4L1646.7,377.8L1644.5,377.3L1642.3,376.8L1640,376.3L1637.7,375.8L1635.4,375.3L1633,374.8L1630.6,374.3L1628.2,373.8L1625.8,373.3L1623.3,372.8L1620.8,372.4L1618.3,371.9L1615.7,371.4L1613.2,370.9L1610.6,370.5L1608,370L1605.7,369.6L1603.4,369.2L1601,368.8L1598.6,368.4L1596.2,368L1593.8,367.6L1591.3,367.3L1588.9,366.9L1586.4,366.5L1583.9,366.1L1581.4,365.8L1578.9,365.4L1576.3,365L1573.8,364.7L1571.3,364.3L1568.8,364L1566.3,363.6L1563.8,363.3L1561.3,363L1558.8,362.6L1556.3,362.3L1553.8,362L1551.4,361.7L1548.9,361.4L1546.5,361.1L1544,360.8L1541.5,360.5L1539.1,360.2L1536.6,359.9L1534.2,359.6L1531.7,359.3L1529.2,359.1L1526.8,358.8L1524.3,358.5L1521.8,358.3L1519.4,358L1516.9,357.8L1514.5,357.5L1512,357.2L1509.5,357L1507.1,356.7L1504.6,356.5L1502.1,356.3L1499.5,356L1496.8,355.7L1494.1,355.5L1491.3,355.2L1488.4,355L1485.6,354.7L1482.8,354.5L1480,354.2L1477.2,354L1474.4,353.8L1471.7,353.5L1469.1,353.3L1466.6,353.1L1464.2,352.9L1461.9,352.7L1459.8,352.6L1457.8,352.4L1456,352.2L1454.3,352.1L1452.9,352L1452.6,352"/>
<polygon class="f" points="1445.8,351.5 1452.8,349.5 1452.4,354.4"/>
<path class="e" d="M1934.4,437.1L1932.2,436.2L1930,435.4L1927.8,434.5L1925.7,433.7L1923.5,432.8L1921.3,432L1919.1,431.1L1916.9,430.3L1914.7,429.4L1912.5,428.6L1910.3,427.7L1908,426.8L1905.8,425.9L1903.5,425L1901.2,424.1L1899,423.1L1896.7,422.2L1894.4,421.3L1892.1,420.4L1889.9,419.5L1887.6,418.6L1885.3,417.7L1883,416.8L1880.7,415.9L1878.5,415L1876.2,414.2L1873.9,413.3L1871.6,412.4L1869.4,411.6L1867.1,410.7L1864.8,409.9L1862.5,409.1L1860.2,408.3L1857.9,407.5L1855.7,406.8L1853.4,406.1L1851.1,405.4L1848.8,404.7L1846.5,404.1L1844.2,403.4L1841.9,402.7L1839.7,402.1L1837.4,401.4L1835.1,400.7L1832.8,400L1830.6,399.3L1828.3,398.6L1826,397.9L1823.7,397.2L1821.5,396.5L1819.2,395.8L1816.9,395.2L1814.7,394.5L1812.4,393.8L1810.1,393.2L1807.8,392.6L1805.5,392L1803.3,391.4L1801,390.8L1798.7,390.3L1796.4,389.7L1794.1,389.2L1791.9,388.6L1789.6,388.1L1787.3,387.5L1785,387L1782.7,386.5L1780.5,385.9L1778.2,385.4L1775.9,384.9L1773.7,384.3L1771.4,383.8L1769.1,383.3L1766.9,382.8L1764.6,382.3L1762.3,381.8L1760,381.3L1757.7,380.8L1755.4,380.3L1753.1,379.8L1750.7,379.4L1748.4,378.9L1746.1,378.5L1743.7,378L1741.4,377.6L1739,377.1L1736.5,376.7L1734,376.3L1731.7,375.9L1729.5,375.6L1727.2,375.3L1725,375L1722.7,374.7L1720.3,374.4L1718,374.1L1715.6,373.8L1713.2,373.6L1710.7,373.3L1708.1,373L1705.5,372.7L1702.8,372.3L1700,372L1697.9,371.7L1695.8,371.5L1693.6,371.2L1691.4,370.9L1689.1,370.7L1686.7,370.4L1684.4,370.1L1682,369.8L1679.5,369.5L1677.1,369.2L1674.6,368.9L1672,368.6L1669.5,368.3L1666.9,368L1664.4,367.7L1661.8,367.4L1659.2,367.1L1656.6,366.8L1654,366.5L1651.5,366.2L1648.9,365.9L1646.3,365.6L1643.8,365.3L1641.2,365L1638.7,364.7L1636.3,364.5L1633.8,364.2L1631.3,363.9L1628.8,363.7L1626.3,363.4L1623.8,363.1L1621.2,362.9L1618.7,362.6L1616.2,362.3L1613.6,362.1L1611.1,361.8L1608.6,361.5L1606.1,361.3L1603.5,361L1601,360.8L1598.5,360.5L1596,360.3L1593.5,360L1591,359.8L1588.5,359.6L1586.1,359.3L1583.6,359.1L1581.2,358.9L1578.7,358.7L1576.3,358.4L1573.9,358.2L1571.6,358L1569.2,357.8L1566.6,357.6L1564.1,357.4L1561.6,357.1L1559.1,356.9L1556.6,356.7L1554.2,356.5L1551.8,356.4L1549.3,356.2L1546.9,356L1544.6,355.8L1542.2,355.6L1539.8,355.5L1537.4,355.3L1535,355.1L1532.5,354.9L1530.1,354.8L1527.6,354.6L1525.1,354.4L1522.6,354.2L1520.1,354.1L1517.5,353.9L1515.1,353.7L1512.6,353.6L1510,353.4L1507.3,353.2L1504.6,353.1L1501.8,352.9L1498.9,352.7L1496,352.5L1493.1,352.4L1490.2,352.2L1487.3,352L1484.4,351.8L1481.6,351.7L1478.8,351.5L1476,351.3L1473.4,351.2L1470.7,351L1468.2,350.9L1465.8,350.7L1463.5,350.6L1461.4,350.5L1459.3,350.4L1457.5,350.3L1455.8,350.2L1454.2,350.1L1452.9,350L1452.6,350"/>
<polygon class="f" points="1445.8,349.6 1452.7,347.5 1452.5,352.4"/>
<path class="e" d="M521.8,688.5L524,687.1L526.1,685.6L528.2,684.1L530.3,682.6L532.4,681.1L534.4,679.5L536.4,677.9L538.3,676.3L540.2,674.7L542.1,673L543.9,671.3L545.8,669.6L547.6,667.9L549.4,666.1L551.1,664.3L552.8,662.5L554.5,660.7L556.2,658.9L557.9,657L559.5,655.2L561.1,653.3L562.7,651.4L564.3,649.5L565.9,647.5L567.5,645.6L569,643.6L570.5,641.7L572.1,639.7L573.6,637.7L575.1,635.7L576.5,633.7L578,631.7L579.5,629.7L580.9,627.7L582.4,625.6L583.9,623.6L585.3,621.5L586.8,619.5L588.2,617.5L589.6,615.4L591.1,613.3L592.5,611.3L594,609.2L595.4,607.2L596.9,605.1L598.4,603.1L599.8,601L601.3,599L602.8,597L604.3,594.9L605.8,592.9L607.3,590.9L608.8,588.9L610.4,586.8L611.9,584.8L613.5,582.9L615,580.9L616.6,578.9L618.2,576.9L619.8,575L621.4,573L623.1,571.1L624.7,569.2L626.4,567.2L628.1,565.3L629.7,563.5L631.4,561.6L633.2,559.7L634.9,557.9L636.6,556L638.4,554.2L640.2,552.4L642,550.6L643.8,548.8L645.6,547.1L647.4,545.3L649.3,543.6L651.1,541.9L653,540.2L654.9,538.5L656.8,536.8L658.8,535.2L660.7,533.6L662.7,532L664.7,530.4L666.6,528.9L668.7,527.4L670.7,525.9L672.7,524.4L674.8,523L676.9,521.6L679,520.2L681.1,518.9L683.2,517.5L685.3,516.3L687.5,515L689.7,513.8L691.8,512.6L694,511.5L696.3,510.4L698.5,509.3L700.7,508.2L703,507.2L705.3,506.2L707.5,505.2L709.8,504.2L712.1,503.3L714.4,502.4L716.8,501.5L719.1,500.7L721.5,499.9L723.8,499.1L726.2,498.3L728.6,497.5L731,496.8L733.4,496.1L735.8,495.4L738.2,494.7L740.6,494.1L743,493.5L745.5,492.8L747.9,492.3L750.4,491.7L752.8,491.1L755.3,490.6L757.8,490L760.2,489.5L762.7,489L765.2,488.5L767.7,488.1L770.2,487.6L772.7,487.2L775.2,486.7L777.7,486.3L780.2,485.9L782.7,485.5L785.2,485.1L787.7,484.7L790.2,484.3L792.8,483.9L795.3,483.6L797.8,483.2L800.3,482.9L802.8,482.5L805.3,482.2L807.9,481.9L810.4,481.5L812.9,481.2L815.4,480.9L817.9,480.6L820.4,480.2L822.9,479.9L825.4,479.6L828,479.3L830.5,479L833,478.7L835.5,478.4L838,478.1L840.5,477.8L843,477.5L845.5,477.3L848,477L850.5,476.7L853,476.4L855.5,476.2L858,475.9L860.5,475.6L863,475.4L865.5,475.1L868,474.8L870.5,474.6L873,474.3L875.5,474.1L878,473.8L880.5,473.6L883,473.3L885.5,473.1L888,472.9L890.5,472.6L893,472.4L895.5,472.2L898,471.9L900.5,471.7L903,471.5L905.5,471.3L908,471L910.4,470.8L912.9,470.6L915.4,470.4L917.9,470.2L920.4,470L922.9,469.8L925.4,469.5L927.9,469.3L930.4,469.1L932.9,468.9L935.4,468.7L937.9,468.5L940.4,468.3L942.9,468.1L945.4,467.9L947.9,467.7L950.4,467.5L952.9,467.3L955.4,467.1L957.9,466.9L960.4,466.7L962.9,466.6L965.4,466.4L967.9,466.2L970.4,466L972.9,465.8L975.4,465.6L977.9,465.4L980.4,465.2L982.9,465L985.5,464.9L988,464.7L990.5,464.5L993,464.3L995.5,464.1L998,463.9L1000.5,463.7L1003,463.6L1005.6,463.4L1008.1,463.2L1010.6,463L1013.1,462.8L1015.6,462.6L1018.1,462.4L1020.3,462.3"/>
<polygon class="o" points="1033.3,461.3 1020.7,466.6 1020,458"/>
<path class="e" d="M695.5,579.3L696.8,577.2L698.2,575.2L699.5,573.1L700.8,570.9L702.2,568.8L703.6,566.7L704.9,564.6L706.3,562.4L707.7,560.3L709.1,558.1L710.5,556L712,553.8L713.4,551.7L714.9,549.6L716.4,547.5L717.9,545.4L719.5,543.3L721,541.3L722.6,539.2L724.2,537.2L725.8,535.3L727.5,533.3L729.2,531.4L730.9,529.5L732.6,527.7L734.4,525.9L736.2,524.1L738.1,522.4L739.9,520.8L741.8,519.1L743.8,517.6L745.8,516.1L747.8,514.6L749.8,513.2L751.9,511.8L754,510.4L756.1,509.1L758.3,507.9L760.4,506.7L762.6,505.5L764.9,504.3L767.1,503.2L769.4,502.2L771.6,501.1L773.9,500.1L776.3,499.1L778.6,498.2L780.9,497.3L783.3,496.4L785.7,495.5L788,494.7L790.4,493.9L792.8,493.1L795.2,492.3L797.7,491.6L800.1,490.9L802.5,490.1L804.9,489.5L807.4,488.8L809.8,488.2L812.3,487.5L814.7,486.9L817.2,486.3L819.6,485.8L822.1,485.2L824.6,484.7L827,484.1L829.5,483.6L832,483.1L834.5,482.7L837,482.2L839.5,481.7L842,481.3L844.5,480.9L847,480.5L849.5,480.1L852,479.7L854.5,479.3L857,478.9L859.6,478.6L862.1,478.2L864.6,477.9L867.1,477.5L869.6,477.2L872.2,476.9L874.7,476.6L877.2,476.3L879.8,476L882.3,475.7L884.8,475.4L887.3,475.1L889.9,474.9L892.4,474.6L894.9,474.3L897.5,474.1L900,473.8L902.5,473.5L905.1,473.3L907.6,473L910.1,472.8L912.6,472.5L915.2,472.3L917.7,472L920.2,471.8L922.7,471.5L925.2,471.2L927.8,471L930.3,470.7L932.8,470.5L935.3,470.2L937.8,469.9L940.3,469.7L942.8,469.4L945.3,469.1L947.8,468.8L950.3,468.6L952.8,468.3L955.3,468L957.8,467.8L960.3,467.5L962.8,467.2L965.3,467L967.8,466.7L970.3,466.4L972.8,466.2L975.3,465.9L977.8,465.7L980.3,465.4L982.8,465.2L985.3,464.9L987.8,464.7L990.3,464.4L992.8,464.2L995.3,464L997.8,463.8L1000.3,463.6L1002.9,463.4L1005.4,463.2L1007.9,463L1010.4,462.8L1012.9,462.6L1015.5,462.4L1018,462.3L1020.3,462.1"/>
<polygon class="o" points="1033.3,461.5 1020.5,466.4 1020.1,457.8"/>
<path class="e" d="M856.8,688.5L856,686.1L855.3,683.7L854.6,681.2L854,678.8L853.4,676.3L852.8,673.8L852.2,671.3L851.7,668.8L851.3,666.3L850.8,663.8L850.4,661.2L850.1,658.7L849.8,656.2L849.5,653.6L849.2,651.1L849,648.5L848.9,645.9L848.7,643.4L848.7,640.8L848.6,638.2L848.6,635.7L848.6,633.1L848.7,630.6L848.8,628L849,625.5L849.2,622.9L849.4,620.4L849.7,617.9L850,615.3L850.4,612.8L850.8,610.3L851.2,607.8L851.7,605.3L852.2,602.9L852.8,600.4L853.4,598L854.1,595.6L854.7,593.2L855.5,590.8L856.3,588.4L857.1,586L858,583.7L858.9,581.4L859.8,579.1L860.8,576.8L861.9,574.6L863,572.4L864.1,570.1L865.2,568L866.5,565.8L867.7,563.7L869,561.5L870.3,559.4L871.7,557.4L873.1,555.3L874.5,553.3L875.9,551.3L877.4,549.3L879,547.4L880.5,545.4L882.1,543.5L883.8,541.6L885.4,539.8L887.1,537.9L888.9,536.1L890.6,534.3L892.4,532.6L894.2,530.8L896,529.1L897.9,527.4L899.8,525.8L901.7,524.1L903.7,522.5L905.6,520.9L907.6,519.4L909.6,517.9L911.7,516.3L913.7,514.9L915.8,513.4L917.9,512L920,510.6L922.1,509.2L924.3,507.9L926.5,506.5L928.7,505.3L930.9,504L933.1,502.8L935.3,501.5L937.6,500.4L939.9,499.2L942.2,498.1L944.5,496.9L946.8,495.9L949.1,494.8L951.4,493.7L953.8,492.7L956.1,491.7L958.5,490.7L960.9,489.8L963.2,488.8L965.6,487.9L968,487L970.4,486.1L972.8,485.2L975.2,484.4L977.7,483.5L980.1,482.7L982.5,481.9L984.9,481.1L987.4,480.4L989.8,479.6L992.3,478.8L994.7,478.1L997.1,477.4L999.6,476.7L1002,475.9L1004.4,475.2L1006.9,474.6L1009.3,473.9L1011.7,473.2L1014.1,472.6L1016.6,471.9L1019,471.3L1021.4,470.6L1023.8,470L1026.2,469.4L1026.7,469.2"/>
<polygon class="f" points="1033.3,467.5 1027.3,471.6 1026.1,466.8"/>
<path class="e" d="M871,688.5L871.7,686.1L872.3,683.6L873,681.2L873.7,678.8L874.4,676.4L875.2,674L875.9,671.6L876.7,669.1L877.5,666.7L878.3,664.3L879.1,661.9L879.9,659.5L880.8,657.2L881.7,654.8L882.5,652.4L883.4,650L884.4,647.6L885.3,645.3L886.2,642.9L887.2,640.6L888.2,638.2L889.2,635.9L890.2,633.5L891.2,631.2L892.2,628.9L893.3,626.6L894.4,624.3L895.5,621.9L896.6,619.7L897.7,617.4L898.8,615.1L900,612.8L901.2,610.6L902.4,608.3L903.6,606.1L904.8,603.8L906,601.6L907.3,599.4L908.5,597.2L909.8,595L911.1,592.8L912.4,590.7L913.8,588.5L915.1,586.3L916.5,584.2L917.9,582.1L919.3,580L920.7,577.9L922.1,575.8L923.6,573.7L925,571.6L926.5,569.6L928,567.5L929.5,565.5L931,563.5L932.6,561.5L934.2,559.5L935.7,557.5L937.3,555.6L938.9,553.6L940.6,551.7L942.2,549.8L943.9,547.9L945.5,546L947.2,544.1L948.9,542.3L950.7,540.4L952.4,538.6L954.1,536.8L955.9,535L957.7,533.3L959.5,531.5L961.3,529.8L963.2,528.1L965,526.4L966.9,524.7L968.8,523L970.7,521.4L972.6,519.7L974.5,518.1L976.5,516.6L978.5,515L980.4,513.4L982.4,511.9L984.5,510.4L986.5,508.9L988.5,507.4L990.6,506L992.7,504.6L994.8,503.2L996.9,501.8L999,500.4L1001.2,499.1L1003.4,497.8L1005.5,496.5L1007.7,495.2L1010,493.9L1012.2,492.7L1014.4,491.5L1016.7,490.3L1019,489.2L1021.3,488L1023.6,486.9L1025.9,485.9L1028.3,484.8L1030.6,483.8L1031.5,483.4"/>
<polygon class="f" points="1037.8,480.8 1032.4,485.6 1030.6,481.1"/>
<path class="e" d="M1022.3,688.5L1021.1,686.4L1019.9,684.2L1018.7,682.1L1017.4,679.9L1016.1,677.7L1014.8,675.6L1013.5,673.4L1012.2,671.2L1010.9,669L1009.6,666.8L1008.3,664.5L1007,662.3L1005.7,660L1004.4,657.8L1003.2,655.5L1001.9,653.2L1000.7,650.9L999.6,648.6L998.4,646.3L997.3,643.9L996.3,641.6L995.2,639.2L994.3,636.9L993.4,634.5L992.5,632.1L991.7,629.6L991,627.2L990.3,624.7L989.7,622.3L989.2,619.8L988.7,617.3L988.3,614.8L988,612.3L987.7,609.8L987.5,607.3L987.3,604.8L987.2,602.3L987.2,599.7L987.3,597.2L987.4,594.7L987.5,592.2L987.8,589.7L988.1,587.2L988.4,584.7L988.9,582.3L989.3,579.8L989.9,577.3L990.5,574.9L991.2,572.5L991.9,570.1L992.7,567.7L993.5,565.3L994.4,563L995.4,560.6L996.4,558.3L997.4,556L998.5,553.7L999.7,551.4L1000.9,549.2L1002.1,547L1003.4,544.7L1004.7,542.5L1006.1,540.4L1007.5,538.2L1009,536.1L1010.4,533.9L1011.9,531.8L1013.5,529.7L1015.1,527.7L1016.7,525.6L1018.3,523.6L1020,521.6L1021.6,519.6L1023.4,517.6L1025.1,515.6L1026.8,513.7L1028.6,511.8L1030.4,509.9L1032.2,508L1034,506.2L1035.8,504.3L1037.7,502.5L1039.5,500.7L1041.4,499L1043.3,497.2L1045.1,495.5L1047,493.8L1048.9,492.1L1050.8,490.5L1052.7,488.8L1054.5,487.2L1056.4,485.6L1056.8,485.3"/>
<polygon class="f" points="1062,481 1058.3,487.2 1055.2,483.5"/>
<path class="e" d="M1156.5,694.5L1154.2,693.5L1152,692.5L1149.7,691.5L1147.4,690.6L1145,689.6L1142.7,688.6L1140.4,687.7L1138.1,686.7L1135.8,685.7L1133.5,684.8L1131.2,683.8L1129,682.8L1126.8,681.8L1124.6,680.7L1122.5,679.7L1120.5,678.6L1118.5,677.5L1116.3,676.3L1114.2,675L1112.2,673.8L1110.2,672.6L1108.3,671.4L1106.3,670.1L1104.5,668.8L1102.6,667.5L1100.8,666.1L1098.9,664.7L1097.1,663.2L1095.3,661.6L1093.5,660L1091.8,658.4L1090.1,656.8L1088.4,655.1L1086.7,653.3L1085,651.5L1083.4,649.7L1081.7,647.8L1080,645.9L1078.4,643.9L1076.9,641.9L1075.3,640L1073.8,638L1072.4,636L1071,634L1069.7,632L1068.5,630L1067.3,627.9L1066.1,625.8L1065,623.7L1063.9,621.6L1062.9,619.4L1061.9,617.2L1061,615.1L1060.1,612.9L1059.3,610.7L1058.5,608.5L1057.8,606.4L1057.2,604.2L1056.6,602.1L1056,600L1055.5,597.7L1055,595.4L1054.6,593.1L1054.3,590.8L1054,588.5L1053.9,586.3L1053.7,584L1053.6,581.8L1053.5,579.5L1053.5,577.3L1053.5,575L1053.5,572.7L1053.6,570.5L1053.7,568.3L1053.8,566L1054,563.8L1054.2,561.5L1054.5,559.3L1054.8,557L1055.1,554.7L1055.5,552.4L1056,550L1056.5,547.8L1057,545.5L1057.6,543.1L1058.3,540.8L1058.9,538.3L1059.7,535.9L1060.4,533.5L1061.2,531.1L1062,528.7L1062.8,526.3L1063.6,524L1064.4,521.8L1065.2,519.6L1066,517.5L1066.9,515.2L1067.8,512.9L1068.7,510.7L1069.7,508.6L1070.6,506.5L1071.6,504.5L1072.6,502.5L1073.5,500.5L1074.5,498.5L1075.4,496.6L1076.4,494.5L1077.4,492.5L1078.4,490.6L1079.5,488.6L1080.3,487"/>
<polygon class="f" points="1083.5,481 1082.5,488.2 1078.2,485.9"/>
<path class="e" d="M1163.5,579.3L1114.2,487"/>
<polygon class="f" points="1111,481 1116.4,485.8 1112,488.2"/>
<path class="e" d="M1300.5,579.3L1298.7,577.7L1296.8,576L1295,574.3L1293.1,572.7L1291.3,571L1289.5,569.4L1287.6,567.7L1285.8,566L1284,564.4L1282.1,562.7L1280.3,561.1L1278.4,559.4L1276.6,557.8L1274.8,556.2L1272.9,554.5L1271.1,552.9L1269.3,551.3L1267.4,549.6L1265.6,548L1263.7,546.3L1261.9,544.6L1260,543L1258.2,541.3L1256.3,539.6L1254.5,538L1252.6,536.4L1250.8,534.7L1248.9,533.1L1247,531.6L1245.2,530L1243.3,528.5L1241.4,527L1239.5,525.5L1237.5,524L1235.6,522.6L1233.6,521.2L1231.7,519.8L1229.7,518.4L1227.7,517L1225.7,515.7L1223.7,514.4L1221.7,513.1L1219.7,511.8L1217.7,510.5L1215.7,509.3L1213.6,508L1211.6,506.8L1209.6,505.6L1207.5,504.3L1205.3,503.1L1203.1,501.9L1200.9,500.7L1198.7,499.5L1196.4,498.3L1194.2,497.1L1192,496L1189.8,494.9L1187.7,493.8L1185.6,492.7L1183.6,491.7L1181.7,490.7L1179.8,489.7L1177.5,488.5L1175.4,487.4L1173.3,486.3L1171.4,485.3L1169.6,484.4"/>
<polygon class="f" points="1163.5,481.3 1170.7,482.2 1168.4,486.6"/>
<path class="e" d="M1421.5,688.5L1421.1,686.1L1420.7,683.7L1420.4,681.2L1420,678.8L1419.7,676.4L1419.3,673.9L1418.9,671.5L1418.6,669L1418.2,666.6L1417.8,664.2L1417.4,661.9L1417,659.5L1416.5,657.3L1416,655L1415.4,652.5L1414.8,650.1L1414.2,647.7L1413.6,645.3L1412.9,643L1412.3,640.7L1411.6,638.4L1410.8,636L1410.1,633.7L1409.3,631.3L1408.4,628.8L1407.6,626.7L1406.8,624.5L1406,622.3L1405.1,620L1404.3,617.8L1403.3,615.5L1402.4,613.2L1401.5,610.9L1400.5,608.6L1399.5,606.3L1398.5,604L1397.5,601.7L1396.5,599.5L1395.5,597.2L1394.5,595L1393.5,592.8L1392.5,590.7L1391.5,588.5L1390.5,586.3L1389.5,584.2L1388.5,582L1387.5,579.9L1386.4,577.7L1385.4,575.6L1384.3,573.5L1383.2,571.4L1382.1,569.3L1381,567.3L1379.8,565.2L1378.6,563.2L1377.3,561.1L1376,559L1374.7,556.8L1373.3,554.7L1371.9,552.6L1370.5,550.5L1369.1,548.5L1367.7,546.4L1366.2,544.4L1364.8,542.5L1363.3,540.6L1361.8,538.8L1360.2,537.1L1358.7,535.4L1357,533.7L1355.3,532L1353.6,530.5L1351.9,529L1350.2,527.5L1348.4,526.1L1346.6,524.8L1344.8,523.4L1342.9,522.1L1340.9,520.8L1338.9,519.5L1337,518.3L1335.1,517.1L1333.1,516L1331.1,514.9L1329,513.8L1326.9,512.7L1324.8,511.6L1322.6,510.5L1320.4,509.5L1318.2,508.5L1315.9,507.5L1313.6,506.5L1311.3,505.5L1309,504.6L1306.8,503.8L1304.6,503L1302.4,502.2L1300.1,501.4L1297.8,500.7L1295.5,500L1293.1,499.3L1290.8,498.6L1288.4,497.9L1286,497.2L1283.6,496.6L1281.2,495.9L1278.8,495.3L1276.4,494.6L1274,494L1271.7,493.3L1269.3,492.7L1267,492.1L1264.6,491.4L1262.3,490.8L1260,490.2L1257.6,489.6L1255.3,489L1252.9,488.4L1250.6,487.8L1248.3,487.2L1245.9,486.7L1243.6,486.1L1241.2,485.5L1238.9,484.9L1236.5,484.4L1234.2,483.8L1231.8,483.3L1229.5,482.7L1227.2,482.1L1224.8,481.6L1222.4,481L1220,480.4L1217.6,479.9L1215.2,479.3L1212.8,478.8L1210.4,478.2L1208,477.7L1205.7,477.1L1203.3,476.6L1201,476.1L1198.7,475.6L1196.4,475.1L1194.2,474.7L1192,474.2L1189.8,473.8L1187.3,473.3L1184.9,472.9L1182.5,472.5L1180.2,472.1L1177.9,471.8L1175.6,471.4L1173.3,471.1L1171.1,470.8L1168.8,470.4L1168.7,470.4"/>
<polygon class="f" points="1162,469.4 1169.1,468 1168.4,472.8"/>
<path class="e" d="M1437.8,688.5L1438.8,686.2L1439.9,684L1440.9,681.7L1442,679.4L1443.1,677.2L1444.2,674.9L1445.2,672.6L1446.3,670.4L1447.3,668.1L1448.3,665.9L1449.3,663.7L1450.2,661.5L1451.1,659.3L1452,657L1452.9,654.7L1453.8,652.5L1454.7,650.2L1455.5,648L1456.3,645.8L1457.1,643.6L1457.8,641.4L1458.5,639.3L1459.2,637.3L1459.8,635.3L1460.5,633L1461.1,630.7L1461.7,628.6L1462.3,626.5L1462.8,624.4L1463.3,622.2L1463.8,620L1464.3,617.8L1464.8,615.6L1465.3,613.4L1465.8,611.1L1466.2,608.9L1466.7,606.6L1467.1,604.3L1467.5,602L1467.9,599.7L1468.3,597.3L1468.6,595L1469,592.6L1469.3,590.3L1469.6,587.9L1469.8,585.5L1470,583.1L1470.2,580.7L1470.3,578.2L1470.4,575.7L1470.5,573.3L1470.5,570.8L1470.4,568.3L1470.3,565.8L1470,563.2L1469.7,560.9L1469.3,558.5L1468.9,556.1L1468.5,553.7L1467.9,551.3L1467.3,548.9L1466.6,546.5L1465.8,544.1L1465,541.7L1464,539.4L1463,537.3L1462,535.2L1460.9,533.1L1459.7,531L1458.4,528.9L1457,526.9L1455.7,524.8L1454.2,522.9L1452.8,520.9L1451.3,519L1449.7,517.2L1448.2,515.5L1446.6,513.8L1445,512.1L1443.4,510.5L1441.7,508.9L1440.1,507.4L1438.3,506L1436.5,504.6L1434.6,503.2L1432.6,502L1430.5,500.8L1428.3,499.6L1426.4,498.7L1424.4,497.9L1422.3,497.1L1420.1,496.4L1417.8,495.7L1415.5,495L1413.1,494.4L1410.7,493.9L1408.2,493.3L1405.7,492.8L1403.2,492.3L1400.7,491.9L1398.2,491.4L1395.8,491L1393.3,490.5L1390.9,490.1L1388.5,489.7L1386,489.3L1383.6,488.9L1381.1,488.5L1378.6,488.1L1376.1,487.8L1373.7,487.5L1371.2,487.2L1368.7,486.9L1366.2,486.6L1363.7,486.4L1361.2,486.2L1358.7,486L1356.3,485.8L1353.8,485.6L1351.3,485.4L1348.8,485.3L1346.3,485.2L1343.9,485.1L1341.4,485.1L1339,485L1336.5,485L1334.1,485.1L1331.6,485.1L1329.2,485.2L1326.7,485.2L1324.3,485.3L1321.8,485.3L1319.3,485.4L1316.7,485.4L1314.2,485.4L1311.6,485.4L1309,485.3L1306.6,485.2L1304.3,485.2L1301.8,485.1L1299.4,485L1297,484.9L1294.5,484.9L1292,484.8L1289.5,484.7L1287,484.6L1284.5,484.4L1282,484.3L1279.4,484.2L1276.9,484L1274.4,483.9L1271.8,483.7L1269.3,483.5L1266.8,483.3L1264.3,483.1L1261.8,482.9L1259.3,482.7L1256.9,482.5L1254.6,482.2L1252.2,481.9L1249.8,481.7L1247.4,481.4L1245.1,481L1242.7,480.7L1240.3,480.4L1237.9,480L1235.6,479.7L1233.2,479.3L1230.8,479L1228.4,478.6L1226.1,478.2L1223.7,477.9L1221.4,477.5L1219,477.2L1216.6,476.8L1214.3,476.5L1211.9,476.1L1209.6,475.8L1207.2,475.5L1204.8,475.1L1202.4,474.8L1200,474.5L1197.6,474.1L1195.2,473.8L1192.9,473.5L1190.5,473.1L1188.1,472.8L1185.7,472.5L1183.4,472.2L1181,471.8L1178.6,471.5L1176.2,471.2L1173.9,470.8L1171.5,470.5L1169.1,470.2L1168.7,470.1"/>
<polygon class="f" points="1162,469.2 1169.1,467.7 1168.4,472.6"/>
<path class="e" d="M1638.5,592.5L1636.1,591.9L1633.7,591.2L1631.3,590.6L1628.8,590L1626.4,589.3L1623.9,588.7L1621.5,588.1L1619,587.5L1616.5,586.9L1614,586.3L1611.6,585.7L1609.1,585L1606.7,584.4L1604.3,583.8L1601.9,583.1L1599.5,582.5L1597.2,581.8L1594.9,581.1L1592.6,580.4L1590.4,579.7L1588.2,579L1586.1,578.3L1584,577.5L1581.6,576.6L1579.2,575.6L1576.8,574.6L1574.4,573.6L1572.1,572.5L1569.8,571.5L1567.5,570.4L1565.3,569.3L1563.2,568.2L1561.1,567.1L1559,566.1L1557.1,565L1555.2,564L1553.4,563L1551.6,562.1L1550,561.2L1547.6,559.8L1545.5,558.5L1543.5,557.3L1541.7,556.1L1539.7,554.7L1537.6,553.3L1535.8,552.1L1533.9,550.9L1531.9,549.6L1529.9,548.3L1527.8,546.9L1525.8,545.5L1523.7,544L1521.7,542.5L1519.7,541L1517.7,539.4L1516,537.9L1514.4,536.3L1512.8,534.7L1511.2,533L1509.7,531.3L1508.1,529.5L1506.5,527.8L1504.9,526.1L1503.3,524.3L1501.6,522.7L1499.8,521L1497.9,519.5L1496,518.1L1494.1,516.6L1492.2,515.2L1490.1,513.9L1488.1,512.5L1486,511.2L1483.9,509.9L1481.7,508.6L1479.5,507.3L1477.2,506.1L1475,504.9L1472.7,503.8L1470.3,502.7L1468,501.6L1465.9,500.7L1463.7,499.8L1461.4,498.9L1459.2,498.1L1456.9,497.3L1454.6,496.6L1452.2,495.8L1449.8,495.1L1447.5,494.4L1445.1,493.8L1442.7,493.1L1440.3,492.5L1437.8,491.9L1435.4,491.3L1433,490.8L1430.7,490.2L1428.3,489.7L1426,489.2L1423.6,488.7L1421.3,488.2L1419,487.8L1416.6,487.3L1414.3,486.9L1412,486.5L1409.6,486.2L1407.3,485.8L1404.9,485.5L1402.6,485.2L1400.2,484.9L1397.9,484.6L1395.5,484.3L1393.2,484.1L1390.8,483.9L1388.5,483.7L1386,483.5L1383.5,483.4L1381.1,483.3L1378.6,483.2L1376.1,483.1L1373.6,483.1L1371.1,483L1368.7,483L1366.2,483.1L1363.7,483.1L1361.2,483.1L1358.7,483.1L1356.2,483.2L1353.8,483.2L1351.3,483.3L1348.8,483.3L1346.3,483.3L1343.8,483.4L1341.3,483.5L1338.9,483.6L1336.4,483.7L1333.9,483.8L1331.4,483.9L1328.9,484L1326.4,484.2L1323.9,484.3L1321.4,484.4L1318.9,484.5L1316.5,484.6L1314,484.6L1311.5,484.7L1309,484.7L1306.5,484.7L1304.1,484.7L1301.7,484.7L1299.3,484.7L1296.9,484.7L1294.5,484.7L1292.1,484.7L1289.6,484.7L1287.2,484.6L1284.8,484.6L1282.3,484.5L1279.8,484.4L1277.2,484.2L1274.6,484.1L1272,483.9L1269.3,483.7L1267.1,483.5L1264.9,483.3L1262.6,483.1L1260.3,482.8L1258,482.5L1255.7,482.2L1253.3,481.9L1250.8,481.6L1248.4,481.2L1246,480.9L1243.5,480.5L1241,480.2L1238.5,479.8L1236,479.4L1233.6,479L1231.1,478.6L1228.6,478.2L1226.2,477.9L1223.7,477.5L1221.3,477.1L1218.9,476.7L1216.5,476.4L1214.2,476L1211.9,475.7L1209.6,475.4L1207.1,475.1L1204.6,474.7L1202.2,474.4L1199.7,474.1L1197.3,473.7L1194.9,473.4L1192.5,473.1L1190.2,472.8L1187.8,472.5L1185.5,472.1L1183.1,471.8L1180.8,471.5L1178.4,471.2L1176.1,470.9L1173.8,470.6L1171.4,470.3L1169.1,470L1168.7,469.9"/>
<polygon class="f" points="1162,469 1169.1,467.5 1168.4,472.3"/>
<path class="e" d="M924.3,698.3L926.7,697.8L929,697.3L931.3,696.8L933.6,696.4L935.9,695.9L938.1,695.4L940.3,695L942.5,694.5L944.7,694L946.9,693.6L949.1,693.1L951.3,692.7L953.5,692.2L955.6,691.8L957.8,691.3L960,690.9L962.3,690.4L964.5,689.9L966.8,689.5L969.1,689L971.4,688.5L973.7,688L976.1,687.5L978.6,687L981.1,686.5L983.6,686L986.2,685.4L988.8,684.9L991.5,684.3L994.3,683.7L997.1,683.1L1000,682.5L1003,681.9L1006,681.3L1007.8,680.9L1009.6,680.6L1011.4,680.2L1013.2,679.8L1015.1,679.4L1017,679L1018.9,678.6L1020.8,678.2L1022.8,677.8L1024.7,677.4L1026.7,677L1028.8,676.6L1030.8,676.2L1032.9,675.7L1035,675.3L1037.1,674.9L1039.2,674.4L1041.4,674L1043.5,673.5L1045.7,673.1L1047.9,672.6L1050.1,672.2L1052.4,671.7L1054.6,671.2L1056.9,670.8L1059.2,670.3L1061.5,669.8L1063.8,669.3L1066.2,668.8L1068.5,668.4L1070.9,667.9L1073.3,667.4L1075.7,666.9L1078.1,666.4L1080.5,665.9L1083,665.4L1085.4,664.9L1087.9,664.4L1090.4,663.8L1092.9,663.3L1095.4,662.8L1097.9,662.3L1100.4,661.8L1102.9,661.3L1105.5,660.7L1108,660.2L1110.6,659.7L1113.1,659.1L1115.7,658.6L1118.3,658.1L1120.9,657.5L1123.5,657L1126.1,656.5L1128.7,655.9L1131.3,655.4L1134,654.8L1136.6,654.3L1139.2,653.7L1141.9,653.2L1144.5,652.7L1147.2,652.1L1149.8,651.6L1152.5,651L1155.2,650.5L1157.8,649.9L1160.5,649.4L1163.2,648.8L1165.8,648.3L1168.5,647.7L1171.2,647.2L1173.8,646.6L1176.5,646.1L1179.2,645.5L1181.9,644.9L1184.5,644.4L1187.2,643.8L1189.9,643.3L1192.5,642.7L1195.2,642.2L1197.8,641.6L1200.5,641.1L1203.2,640.6L1205.8,640L1208.5,639.5L1211.1,638.9L1213.7,638.4L1216.4,637.8L1219,637.3L1221.6,636.7L1224.2,636.2L1226.8,635.7L1229.4,635.1L1232,634.6L1234.6,634.1L1237.2,633.5L1239.7,633L1242.3,632.5L1244.8,631.9L1247.4,631.4L1249.9,630.9L1252.4,630.4L1254.6,629.9"/>
<polygon class="o" points="1267.3,627.3 1255.4,634.1 1253.7,625.7"/>
<path class="e" d="M1092.7,691.3L1255.1,632"/>
<polygon class="o" points="1267.3,627.5 1256.6,636 1253.6,627.9"/>
<path class="e" d="M1241,688.5L1289.6,637"/>
<polygon class="o" points="1298.5,627.5 1292.7,639.9 1286.5,634"/>
<path class="e" d="M1401.8,688.5L1352.5,636.9"/>
<polygon class="o" points="1343.5,627.5 1355.6,633.9 1349.4,639.9"/>
<path class="e" d="M429.9,690.6L427.4,690.1L425,689.7L422.5,689.2L420,688.7L417.5,688.2L415,687.7L412.5,687.2L410.1,686.8L407.6,686.3L405.2,685.9L402.8,685.5L400.4,685.1L398.1,684.8L395.7,684.5L393.4,684.2L391.1,683.9L388.8,683.7L386.5,683.5L384.3,683.3L382.1,683.1L379.8,683L377.6,682.9L375.4,682.8L373.1,682.8L370.8,682.8L368.6,682.9L366.3,683L364,683.1L361.7,683.3L359.5,683.5L357.2,683.7L354.9,683.9L352.6,684.1L350.4,684.3L348.1,684.5L345.8,684.7L343.5,684.9L341.2,685.2L338.8,685.5L336.5,685.7L334.2,686L331.9,686.3L329.6,686.5L327.4,686.7L325.3,686.9L323.2,687L320.7,687.1L318.2,687.2L315.9,687.3L313.6,687.3L311.3,687.3L309,687.2L306.5,687L304.2,686.8L301.8,686.5L299.4,686.2L297,685.8L294.5,685.4L292.1,684.9L289.7,684.3L287.2,683.8L284.9,683.1L282.6,682.4L280.3,681.6L278,680.8L275.8,679.9L273.5,679L271.3,678L269.1,677L267,675.9L264.9,674.8L262.9,673.7L261,672.5L259,671.3L257.2,670.1L255.3,668.8L253.5,667.5L251.7,666.1L250,664.7L248.3,663.2L246.7,661.7L245.1,660.2L243.5,658.6L242,657L240.5,655.3L239.1,653.6L237.7,651.8L236.3,650L234.9,648.2L233.6,646.4L232.3,644.5L231.1,642.5L229.9,640.6L228.7,638.6L227.6,636.5L226.4,634.4L225.4,632.4L224.3,630.3L223.3,628.2L222.3,626.1L221.4,624L220.5,621.9L219.7,619.8L218.8,617.6L218,615.5L217.2,613.3L216.5,611.1L215.7,608.8L215,606.6L214.3,604.4L213.6,602.2L212.9,600L212.3,597.7L211.6,595.5L211,593.2L210.4,590.9L209.8,588.6L209.3,586.3L208.8,583.9L208.3,581.6L207.9,579.4L207.5,577.1L207.1,574.9L206.8,572.6L206.5,570.3L206.2,568L206,565.8L205.7,563.5L205.4,561.2L205.4,561"/>
<polygon class="f" points="204.6,554.3 207.9,560.7 203,561.3"/>
<path class="e" d="M486.8,688.5L486.8,634.3"/>
<polygon class="f" points="486.8,627.5 489.2,634.3 484.4,634.3"/>
<path class="e" d="M543.5,693.8L545.8,692.9L548.1,692L550.4,691.1L552.7,690.2L555,689.4L557.3,688.5L559.6,687.6L561.9,686.8L564.2,685.9L566.5,685L568.8,684L571.1,683.1L573.4,682.1L575.7,681.1L578,680L580.1,679L582.2,678L584.3,677L586.5,675.9L588.6,674.9L590.8,673.8L592.9,672.6L595.1,671.5L597.3,670.4L599.4,669.2L601.5,668.1L603.6,666.9L605.7,665.8L607.7,664.6L609.7,663.4L611.7,662.3L613.6,661.1L615.5,660L617.6,658.7L619.7,657.3L621.8,656L623.8,654.6L625.8,653.2L627.7,651.9L629.6,650.5L631.5,649.2L633.4,647.8L635.2,646.5L637,645.1L638.8,643.8L640.5,642.5L642.6,640.9L644.6,639.3L646.6,637.8L648.5,636.2L650.4,634.7L652.3,633.1L652.7,632.8"/>
<polygon class="f" points="658,628.5 654.3,634.7 651.2,630.9"/>
<path class="e" d="M1267.8,815.5L1265.3,815.2L1262.9,814.9L1260.4,814.5L1258,814.2L1255.5,813.9L1253.1,813.6L1250.7,813.3L1248.2,812.9L1245.8,812.6L1243.4,812.3L1241,812L1238.6,811.7L1236.2,811.4L1233.8,811.1L1231.4,810.7L1229,810.4L1226.6,810.1L1224.2,809.8L1221.8,809.5L1219.5,809.2L1217.1,808.9L1214.7,808.6L1212.4,808.3L1210,807.9L1207.6,807.6L1205.3,807.3L1202.9,807L1200.5,806.7L1198.2,806.4L1195.8,806.1L1193.5,805.8L1191.1,805.5L1188.8,805.2L1186.4,804.9L1184.1,804.6L1181.7,804.2L1179.3,803.9L1177,803.6L1174.6,803.3L1172.3,803L1169.9,802.7L1167.6,802.4L1165.2,802.1L1162.9,801.8L1160.5,801.5L1158.1,801.2L1155.8,800.9L1153.4,800.5L1151,800.2L1148.7,799.9L1146.3,799.6L1143.9,799.3L1141.5,799L1139.1,798.7L1136.7,798.4L1134.4,798.1L1132,797.7L1129.6,797.4L1127.2,797.1L1124.7,796.8L1122.3,796.5L1119.9,796.2L1117.5,795.8L1115.1,795.5L1112.6,795.2L1110.2,794.9L1107.8,794.6L1105.3,794.3L1102.8,793.9L1100.4,793.6L1097.9,793.3L1095.4,793L1093,792.6L1090.5,792.3L1088,792L1085.5,791.7L1083,791.3L1080.4,791L1077.9,790.7L1075.4,790.3L1072.8,790L1070.3,789.7L1067.7,789.3L1065.1,789L1062.6,788.7L1060,788.3L1057.4,788L1054.8,787.7L1052.2,787.3L1049.5,787L1046.9,786.6L1044.3,786.3L1041.6,785.9L1038.9,785.6L1036.2,785.2L1033.6,784.9L1030.9,784.5L1028.1,784.2L1025.4,783.8L1022.7,783.5L1019.9,783.1L1017.2,782.8L1014.4,782.4L1011.6,782L1008.8,781.7L1006,781.3L1003.9,781L1001.7,780.7L999.6,780.5L997.5,780.2L995.3,779.9L993.1,779.6L991,779.3L988.8,779.1L986.6,778.8L984.4,778.5L982.2,778.2L980,777.9L977.8,777.6L975.6,777.3L973.4,777.1L971.1,776.8L968.9,776.5L966.7,776.2L964.4,775.9L962.1,775.6L959.9,775.3L957.6,775L955.3,774.7L953.1,774.4L950.8,774.1L948.5,773.8L946.2,773.5L943.9,773.2L941.6,772.9L939.3,772.6L936.9,772.3L934.6,772L932.3,771.7L929.9,771.4L927.6,771.1L925.2,770.8L922.9,770.5L920.5,770.2L918.2,769.9L915.8,769.6L913.4,769.3L911,768.9L908.7,768.6L906.3,768.3L903.9,768L901.5,767.7L899.1,767.4L896.7,767.1L894.2,766.8L891.8,766.5L889.4,766.1L887,765.8L884.5,765.5L882.1,765.2L879.7,764.9L877.2,764.6L874.8,764.2L872.3,763.9L869.9,763.6L867.4,763.3L864.9,763L862.5,762.6L860,762.3L857.5,762L855.1,761.7L852.6,761.4L850.1,761L847.6,760.7L845.1,760.4L842.6,760.1L840.1,759.7L837.6,759.4L835.1,759.1L832.6,758.8L830.1,758.4L827.6,758.1L825.1,757.8L822.5,757.5L820,757.1L817.5,756.8L815,756.5L812.4,756.1L809.9,755.8L807.4,755.5L804.8,755.2L802.3,754.8L799.7,754.5L797.2,754.2L794.6,753.8L792.1,753.5L789.5,753.2L787,752.8L784.4,752.5L781.9,752.2L779.3,751.8L776.7,751.5L774.2,751.2L771.6,750.8L769.1,750.5L766.5,750.2L763.9,749.8L761.3,749.5L758.8,749.2L756.2,748.8L753.6,748.5L751,748.2L748.5,747.8L745.9,747.5L743.3,747.2L740.7,746.8L738.2,746.5L735.6,746.2L733,745.8L730.4,745.5L727.8,745.2L725.2,744.8L722.7,744.5L720.1,744.2L717.5,743.8L714.9,743.5L712.3,743.1L709.7,742.8L707.1,742.5L704.6,742.1L702,741.8L699.4,741.5L696.8,741.1L694.2,740.8L691.6,740.5L689,740.1L686.4,739.8L683.9,739.5L681.3,739.1L678.7,738.8L676.1,738.4L673.5,738.1L670.9,737.8L668.4,737.4L665.8,737.1L663.2,736.8L660.6,736.4L658,736.1L655.5,735.8L652.9,735.4L650.3,735.1L647.7,734.8L645.2,734.4L642.6,734.1L640,733.8L637.5,733.4L634.9,733.1L632.3,732.8L629.8,732.4L627.2,732.1L624.6,731.8L622.1,731.4L619.5,731.1L617,730.8L614.4,730.4L611.9,730.1L609.3,729.8L606.8,729.5L604.2,729.1L601.7,728.8L599.1,728.5L596.6,728.1L594.1,727.8L591.5,727.5L589,727.1L586.5,726.8L584,726.5L581.4,726.2L578.9,725.8L576.4,725.5L573.9,725.2L571.4,724.9L568.9,724.5L566.4,724.2L563.9,723.9L561.4,723.6L558.9,723.2L556.4,722.9L553.9,722.6L551.4,722.3L550.7,722.2"/>
<polygon class="f" points="544,721.3 551.1,719.7 550.4,724.6"/>
<path class="e" d="M206.3,798L97.3,740.2"/>
<polygon class="f" points="91.3,737 98.5,738 96.2,742.4"/>
<path class="e" d="M243.8,798L205.2,742.6"/>
<polygon class="f" points="201.3,737 207.2,741.2 203.2,744"/>
<path class="e" d="M276.3,798L316,742.5"/>
<polygon class="f" points="320,737 318,744 314,741.1"/>
<path class="e" d="M312.5,798L429.7,742.6"/>
<polygon class="o" points="441.5,737 431.6,746.4 427.9,738.7"/>
<path class="e" d="M260,907.2L260,853.3"/>
<polygon class="f" points="260,846.5 262.4,853.3 257.6,853.3"/>
<g style="filter:grayscale(1)">
<text class="i" x="1151.77" y="31" letter-spacing="0.170">History Change</text>
<text class="i" x="1148.87" y="141" letter-spacing="0.214">Managed Object</text>
<text x="1011.82" y="241" letter-spacing="-0.076">PolicyResult</text>
<text x="1129.99" y="241" letter-spacing="0.118">Outage</text>
<text x="1235.51" y="241" letter-spacing="0.450">Kpi</text>
<text x="1316.22" y="241" letter-spacing="0.076">ScheduledDowntime</text>
<text x="1524.22" y="241" letter-spacing="0.005">ServiceConnectionPoint</text>
<text class="i" x="1348.11" y="349" letter-spacing="0.124">ConfigurationItem</text>
<text x="252.96" y="459" letter-spacing="-0.258">Tenant</text>
<text class="i" x="1045.08" y="458" letter-spacing="0.144">InfrastructureElement</text>
<text x="1277.12" y="459" letter-spacing="0.177">Location</text>
<text class="i" x="1698.78" y="458" letter-spacing="0.242">ItProcessRecord</text>
<text x="1956.18" y="459" letter-spacing="0.255">Asset</text>
<text x="186.82" y="533" letter-spacing="-0.092">Policy</text>
<text x="429.16" y="606" letter-spacing="-0.017">ConfigurationDocument</text>
<text x="638.62" y="606" letter-spacing="0.294">RunningSoftware</text>
<text x="1118.16" y="606" letter-spacing="0.128">ClusterResourceConfig</text>
<text class="i" x="1278.87" y="605" letter-spacing="0.246">BusinessElement</text>
<text x="1648.16" y="606" letter-spacing="-0.116">CiCollection</text>
<text x="14.82" y="715" letter-spacing="-0.209">MSMQ Manager</text>
<text x="139.48" y="715" letter-spacing="0.111">ActiveDirectorySite</text>
<text x="276.02" y="715" letter-spacing="-0.179">IBM MQ Queue Manager</text>
<text class="i" x="442.73" y="714" letter-spacing="0.101">ApplicationSystem</text>
<text x="814.12" y="715" letter-spacing="0.189">BusinessApplication</text>
<text x="999.82" y="715" letter-spacing="0.262">BusinessActivity</text>
<text x="1165.82" y="715" letter-spacing="0.231">BusinessTransaction</text>
<text class="i" x="1405.90" y="714" letter-spacing="0.172">Service</text>
<text x="211.82" y="825" letter-spacing="-0.187">MSMQ Routing Link</text>
<text class="i" x="1291.67" y="823" letter-spacing="-0.126">Party</text>
<text x="203.18" y="934" letter-spacing="0.142">Active Directory Forest</text>
<text x="1150.92" y="87" letter-spacing="0.040">History Link</text>
<text x="235.96" y="295" letter-spacing="0.119">Connection</text>
<text x="1057.18" y="295" letter-spacing="0.109">Aggregation</text>
<text x="1127.46" y="295" letter-spacing="-0.095">Composition</text>
<text x="1238.16" y="295" letter-spacing="0.074">Connection</text>
<text x="1312.46" y="295" letter-spacing="-0.095">Composition</text>
<text x="1378.16" y="295" letter-spacing="0.074">Connection</text>
<text x="1497.83" y="295" letter-spacing="0.450">Ownership</text>
<text x="1571.16" y="295" letter-spacing="-0.045">Composition</text>
<text x="1468.76" y="350" letter-spacing="-0.054">ConsumerProvider</text>
<text x="314.16" y="405" letter-spacing="0.074">Connection</text>
<text x="363.98" y="533" letter-spacing="0.149">Aggregation</text>
<text x="504.48" y="533" letter-spacing="0.099">Aggregation</text>
<text x="1279.12" y="405" letter-spacing="-0.030">Membership</text>
<text x="1611.16" y="459" letter-spacing="-0.146">Containment</text>
<text x="1811.32" y="459" letter-spacing="-0.030">Membership</text>
<text x="1643.16" y="405" letter-spacing="0.074">Connection</text>
<text x="1713.82" y="405" letter-spacing="0.004">Membership</text>
<text x="1860.46" y="405" letter-spacing="-0.048">Connection</text>
<text x="857.38" y="606" letter-spacing="0.341">Usage</text>
<text x="920.16" y="606" letter-spacing="-0.146">Containment</text>
<text x="989.88" y="606" letter-spacing="0.266">Usage</text>
<text x="1063.68" y="606" letter-spacing="0.266">Usage</text>
<text x="1146.62" y="533" letter-spacing="0.144">Dependency</text>
<text x="1273.68" y="533" letter-spacing="0.266">Usage</text>
<text x="1406.68" y="606" letter-spacing="0.316">Usage</text>
<text x="1468.16" y="606" letter-spacing="-0.176">Containment</text>
<text x="1534.68" y="533" letter-spacing="0.316">Usage</text>
<text x="252.68" y="661" letter-spacing="0.029">Aggregation</text>
<text x="487.16" y="661" letter-spacing="-0.165">Composition</text>
<text x="626.82" y="661" letter-spacing="0.026">Membership</text>
<text x="918.99" y="770" letter-spacing="0.408">Ownership</text>
<text x="155.16" y="770" letter-spacing="-0.146">Containment</text>
<text x="223.62" y="770" letter-spacing="0.048">Membership</text>
<text x="300.46" y="770" letter-spacing="-0.176">Containment</text>
<text x="259.66" y="879" letter-spacing="-0.095">Composition</text>
</g>
</svg></body></html>
